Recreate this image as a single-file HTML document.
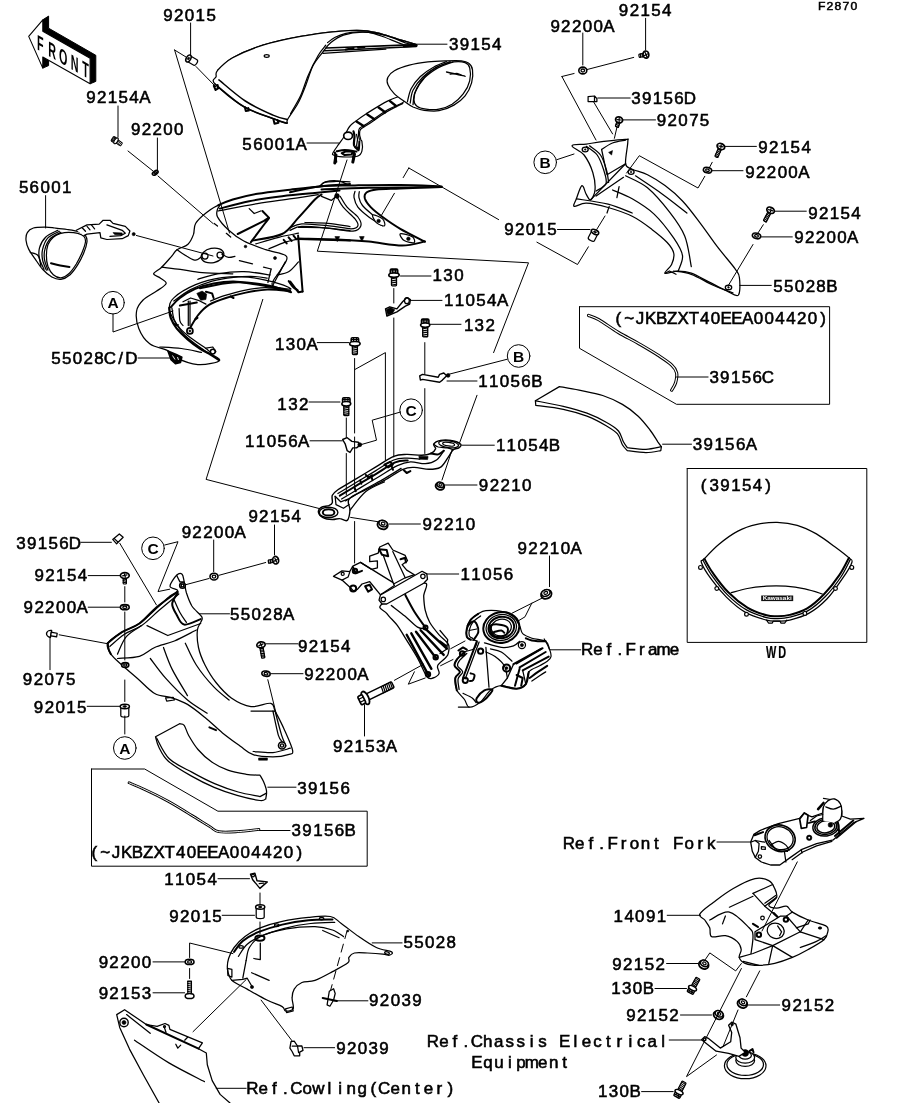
<!DOCTYPE html>
<html lang="en"><head><meta charset="utf-8"><title>F2870 Cowling</title>
<style>
html,body{margin:0;padding:0;background:#fff}
svg{display:block;filter:grayscale(1)}
.k{fill:none;stroke:#000;stroke-width:1;stroke-linejoin:round;stroke-linecap:round}
.g{fill:none;stroke:#000;stroke-width:.7;stroke-linejoin:round;stroke-linecap:round}
.w{fill:#fff;stroke:#000;stroke-width:1;stroke-linejoin:round;stroke-linecap:round}
.b{fill:none;stroke:#000;stroke-width:1.8;stroke-linejoin:round;stroke-linecap:round}
.f{fill:#000;stroke:#000;stroke-width:.6;stroke-linejoin:round}
#parts .k,#parts .w{stroke-width:1.25}
#parts .b{stroke-width:2}
.d{fill:none;stroke:#000;stroke-width:1;stroke-dasharray:9 5}
.l{font-family:"Liberation Sans",sans-serif;fill:#000;stroke:#000;text-anchor:middle}
.c{font-family:"Liberation Sans",sans-serif;font-size:15.5px;font-weight:bold;fill:#000;stroke:none;text-anchor:middle}
</style></head><body>
<svg width="914" height="1103" viewBox="0 0 914 1103">
<rect width="914" height="1103" fill="#fff"/>
<g id="parts">
<path d="M217.6 70.3 C220.1 68.2 225.2 61.9 232.7 57.7 C240.3 53.6 251.6 48.7 262.9 45.2 C274.2 41.6 288.1 38.7 300.7 36.4 C313.2 34.0 327.9 32.3 338.4 31.3 C348.9 30.4 356.4 30.1 363.6 30.6 C370.7 31.0 374.9 32.2 381.2 33.8 C387.5 35.4 395.4 38.3 401.3 40.1 C407.2 41.9 413.9 43.9 416.4 44.7" class="w"/>
<path d="M217.6 70.3 C214.8 73.5 216.5 74.3 216.1 76.6 C215.7 78.9 210.4 79.1 215.1 84.2 C219.8 89.2 234.0 100.9 244.0 106.8 C254.1 112.7 268.4 116.7 275.5 119.4 C282.6 122.1 284.8 123.2 286.8 123.2 C288.8 123.2 285.7 122.8 287.6 119.4 C289.5 116.0 295.1 108.7 298.1 103.0 C301.2 97.4 303.2 91.7 305.7 85.4 C308.2 79.1 310.3 71.0 313.2 65.3 C316.2 59.6 320.4 55.2 323.3 51.5 C326.2 47.7 327.5 45.4 330.9 42.6 C334.2 39.9 338.0 36.9 343.4 35.1 C348.9 33.3 356.4 32.0 363.6 32.1 C370.7 32.2 379.1 33.8 386.2 35.6 C393.3 37.4 401.3 41.6 406.3 43.2 C411.4 44.7 417.2 45.2 416.4 44.7 C415.6 44.2 407.2 41.9 401.3 40.1 C395.4 38.3 387.5 35.4 381.2 33.8 C374.9 32.2 370.7 31.0 363.6 30.6 C356.4 30.1 348.9 30.4 338.4 31.3 C327.9 32.3 313.2 34.0 300.7 36.4 C288.1 38.7 274.2 41.6 262.9 45.2 C251.6 48.7 240.3 53.6 232.7 57.7 C225.2 61.9 220.4 67.2 217.6 70.3 Z" class="w"/>
<path d="M218.9 79.9 C223.3 83.4 236.3 95.2 245.3 101.0 C254.3 106.9 266.0 112.0 273.0 115.1 C280.0 118.2 284.9 118.9 287.3 119.6" class="k" style="stroke-width:1.5"/>
<path d="M215.1 84.2 C219.9 87.9 234.0 100.9 244.0 106.8 C254.1 112.7 268.4 116.7 275.5 119.4 C282.6 122.1 284.9 122.5 286.8 123.2" class="k" style="stroke-width:1.6"/>
<path d="M325.8 45.2 C324.6 46.8 321.2 50.2 318.3 55.2 C315.3 60.3 311.1 68.6 308.2 75.4 C305.3 82.1 303.6 89.1 300.7 95.5 C297.7 101.9 292.3 110.6 290.6 113.6" class="k"/>
<path d="M327.6 42.6 C328.8 41.7 332.2 38.8 335.2 37.3 C338.3 35.7 342.1 34.3 345.9 33.4 C349.8 32.5 354.4 32.1 358.2 31.9 C362.0 31.7 364.8 31.6 368.9 32.4 C373.0 33.1 377.8 34.8 382.7 36.5 C387.5 38.2 394.2 41.2 398.0 42.6 C401.8 44.1 404.4 44.8 405.7 45.2" class="k"/>
<path d="M326.0 48.0 L416.4 44.6" class="b" style="stroke-width:1.6"/>
<path d="M324.5 50.7 L353.6 49.5 L416.4 46.4" class="k" style="stroke-width:1.5"/>
<path d="M323.0 53.3 L352.1 51.3 L385.8 49.2" class="k"/>
<path d="M345.9 49.5 L353.6 48.0" class="b" style="stroke-width:2.2"/>
<path d="M358.2 47.7 L364.3 47.1" class="b" style="stroke-width:2.2"/>
<path d="M404.1 46.1 L416.4 45.5" class="b" style="stroke-width:2.6"/>
<path d="M213.8 85.9 L215.6 90.0 L218.1 88.4 L217.6 84.9" class="b"/>
<path d="M244.8 107.1 L245.8 111.1 L248.8 110.6 L248.3 108.1" class="b"/>
<path d="M273.5 119.4 L274.5 123.7 L278.5 122.7 L277.5 120.2" class="b"/>
<ellipse cx="266.7" cy="56" rx="2.5" ry="1.3" class="k"/>
<path d="M403.7 101.9 C406.5 99.4 405.4 96.1 402.8 96.0 C400.1 95.8 394.1 98.0 388.0 100.9 C381.9 103.9 371.9 110.2 366.3 113.7 C360.8 117.2 357.3 119.9 354.5 122.1 C351.7 124.2 351.0 124.8 349.6 126.5 C348.2 128.2 347.1 130.6 346.2 132.4 C345.2 134.2 344.9 135.4 343.7 137.3 C342.5 139.3 340.5 141.8 338.8 144.2 C337.1 146.7 334.3 150.3 333.4 152.1 C332.5 153.9 331.8 154.3 333.4 155.0 C334.9 155.8 338.7 156.6 342.7 156.8 C346.7 157.0 354.3 157.2 357.5 156.2 C360.7 155.3 361.2 153.6 361.9 151.1 C362.6 148.6 362.3 143.2 361.9 141.3 C361.5 139.3 360.0 140.4 359.4 139.3 C358.9 138.1 358.5 136.2 358.5 134.4 C358.5 132.6 358.0 130.3 359.4 128.5 C360.9 126.7 362.9 126.5 367.3 123.5 C371.8 120.6 380.0 114.4 386.0 110.7 C392.1 107.1 401.0 104.4 403.7 101.9 Z" class="w" style="stroke-width:1.2"/>
<path d="M402.8 103.4 C400.0 104.8 392.3 108.4 386.5 111.9 C380.8 115.4 372.6 121.4 368.3 124.3 C364.0 127.2 362.1 127.6 360.6 129.3 C359.2 130.9 359.6 132.8 359.6 134.4 C359.6 136.0 360.5 138.1 360.6 138.8" class="k"/>
<path d="M390.0 101.1 L396.1 106.0" class="b" style="stroke-width:2.4"/>
<path d="M378.6 107.6 L385.2 112.3" class="b" style="stroke-width:2.4"/>
<path d="M367.3 114.5 L374.4 119.2" class="b" style="stroke-width:2.4"/>
<path d="M356.5 121.4 L363.6 126.1" class="b" style="stroke-width:2.4"/>
<ellipse cx="348.1" cy="135.8" rx="4.4" ry="3.7" class="w" style="stroke-width:1.7"/>
<path d="M353.5 131.4 C353.7 132.2 354.4 134.0 354.5 136.3 C354.6 138.6 353.4 142.9 354.0 145.2 C354.7 147.5 357.7 149.3 358.5 150.1" class="b" style="stroke-width:2.2"/>
<path d="M356.5 134.4 C356.7 135.2 357.4 137.3 357.5 139.3 C357.5 141.3 356.4 144.5 356.7 146.2 C357.0 147.8 359.0 148.6 359.4 149.1" class="k"/>
<path d="M359.4 141.3 L359.0 148.1" class="b"/>
<path d="M336.8 151.3 C338.1 151.1 341.4 150.1 344.7 150.1 C348.0 150.2 354.5 151.3 356.5 151.6" class="b"/>
<path d="M341.7 153.1 L346.2 151.3 L352.6 151.7 L351.6 154.6 L344.7 155.1 Z" class="b"/>
<path d="M336.0 155.0 L334.8 162.9" class="b" style="stroke-width:3"/>
<path d="M354.5 154.1 L352.8 162.1" class="b" style="stroke-width:3"/>
<path d="M405.6 102.3 C402.5 100.1 397.3 96.9 394.4 93.9 C391.5 91.0 389.0 87.4 387.9 84.6 C386.8 81.9 386.8 79.5 387.9 77.2 C389.0 74.9 390.8 72.7 394.4 70.7 C398.0 68.7 403.7 66.6 409.3 65.1 C414.9 63.7 421.7 62.7 427.9 61.9 C434.1 61.2 440.9 61.0 446.5 60.8 C452.1 60.6 457.6 60.4 461.4 60.8 C465.1 61.2 466.9 61.8 468.8 63.3 C470.7 64.7 472.1 66.5 472.5 69.8 C473.0 73.0 472.8 78.4 471.6 82.8 C470.4 87.1 468.0 92.1 465.1 95.8 C462.1 99.5 458.3 102.6 453.9 105.1 C449.6 107.6 444.0 109.8 439.0 110.7 C434.1 111.6 428.5 110.9 424.2 110.3 C419.8 109.7 416.1 108.3 413.0 107.0 C409.9 105.6 408.7 104.5 405.6 102.3 Z" class="w"/>
<path d="M416.7 106.0 C414.7 104.4 413.9 102.5 413.9 99.5 C413.9 96.6 414.7 92.4 416.7 88.4 C418.7 84.3 422.3 79.1 426.0 75.3 C429.7 71.6 434.4 68.3 439.0 66.0 C443.7 63.8 449.6 62.5 453.9 61.9 C458.3 61.4 462.5 61.7 465.1 62.7 C467.7 63.7 469.0 64.9 469.7 67.9 C470.5 70.9 470.8 76.6 469.7 80.9 C468.7 85.3 466.2 90.1 463.2 93.9 C460.3 97.8 456.1 101.6 452.1 104.2 C448.0 106.7 443.4 108.4 439.0 109.2 C434.7 110.0 429.7 109.7 426.0 109.2 C422.3 108.7 418.7 107.6 416.7 106.0 Z" class="k"/>
<path d="M407.4 101.8 C408.0 99.6 409.0 93.0 411.1 88.7 C413.3 84.5 416.7 80.1 420.4 76.5 C424.2 72.9 429.1 69.6 433.5 67.2 C437.8 64.7 444.3 62.5 446.5 61.6" class="k"/>
<path d="M410.2 103.2 C410.7 101.1 410.9 94.6 413.0 90.2 C415.1 85.9 418.9 81.0 422.7 77.2 C426.5 73.4 431.1 70.1 435.7 67.5 C440.3 64.9 447.8 62.6 450.2 61.6" class="k"/>
<path d="M413.0 104.7 C413.4 102.6 413.3 96.5 415.2 92.1 C417.2 87.6 420.8 82.0 424.5 77.9 C428.3 73.9 433.2 70.6 437.9 67.9 C442.7 65.2 450.5 62.8 453.0 61.8" class="k"/>
<path d="M446.5 72.0 C448.0 72.3 452.7 73.3 455.8 74.0 C458.9 74.8 463.5 75.9 465.1 76.3" class="k" style="stroke-width:1.3"/>
<path d="M450.2 74.2 C451.4 74.1 455.8 73.3 457.6 73.5 C459.5 73.7 460.7 75.0 461.4 75.3" class="k"/>
<path d="M219.7 204.9 C217.9 205.4 210.6 209.4 206.6 212.5 C202.6 215.6 197.8 219.8 195.6 223.5 C193.5 227.1 194.7 230.9 193.5 234.4 C192.2 237.9 190.7 241.7 188.0 244.2 C185.3 246.8 179.8 247.7 177.0 249.7 C174.3 251.7 174.1 253.4 171.6 256.3 C169.0 259.2 164.7 264.3 161.7 267.2 C158.7 270.1 153.8 272.0 153.6 273.8 C153.5 275.6 158.6 276.5 160.6 278.2 C162.7 279.8 166.8 281.4 166.1 283.6 C165.4 285.8 160.1 288.6 156.3 291.3 C152.4 294.0 146.4 296.8 143.1 300.0 C139.8 303.3 137.3 306.2 136.6 311.0 C135.8 315.7 136.6 323.0 138.8 328.5 C140.9 334.0 145.0 340.2 149.7 343.8 C154.4 347.5 163.2 348.2 167.2 350.4 C171.2 352.6 168.7 354.6 173.8 356.9 C178.9 359.3 190.2 364.0 197.8 364.6 C205.5 365.1 218.6 362.6 219.7 360.2 C220.8 357.8 210.2 354.6 204.4 350.4 C198.6 346.2 189.8 340.2 184.7 335.1 C179.6 329.9 176.3 324.1 173.8 319.7 C171.2 315.4 169.4 312.4 169.4 308.8 C169.4 305.1 169.4 301.9 173.8 297.9 C178.1 293.8 187.6 288.1 195.6 284.7 C203.7 281.4 213.2 279.0 221.9 277.7 C230.7 276.4 238.7 276.1 248.2 277.1 C257.6 278.1 271.7 281.6 278.8 283.6 C285.9 285.6 291.9 288.9 290.8 289.1 C289.7 289.3 273.9 288.0 272.2 284.7 C270.6 281.4 278.6 274.2 281.0 269.4 C283.4 264.7 289.0 259.6 286.5 256.3 C283.9 253.0 272.8 252.3 265.7 249.7 C258.6 247.2 250.0 244.2 243.8 241.0 C237.6 237.7 232.8 234.0 228.5 230.0 C224.1 226.0 219.4 220.4 217.5 216.9 C215.7 213.4 217.2 211.2 217.5 209.2 C217.9 207.2 221.5 204.3 219.7 204.9 Z" class="w"/>
<path d="M170.7 307.2 C172.3 305.6 175.8 301.0 179.9 298.0 C184.0 294.9 189.6 291.2 195.2 288.8 C200.8 286.4 207.2 284.6 213.6 283.4 C220.0 282.2 226.6 281.3 233.5 281.4 C240.4 281.6 247.8 283.1 255.0 284.2 C262.1 285.3 270.5 286.9 276.4 288.0 C282.3 289.2 287.9 290.6 290.2 291.1" class="b" style="stroke-width:2"/>
<path d="M173.8 301.0 C176.6 299.1 184.3 292.9 190.6 289.6 C197.0 286.2 204.9 283.2 212.1 281.1 C219.2 279.1 226.4 278.1 233.5 277.3 C240.7 276.5 249.3 276.4 255.0 276.5 C260.6 276.7 265.2 277.8 267.2 278.1" class="k"/>
<path d="M290.2 291.1 C286.4 290.8 274.6 289.3 267.2 289.6 C259.8 289.8 252.7 291.2 245.8 292.6 C238.9 294.0 232.0 295.9 225.9 298.0 C219.7 300.0 213.6 302.1 209.0 304.9 C204.4 307.7 201.4 311.1 198.3 314.8 C195.2 318.5 191.9 325.0 190.6 327.1" class="b" style="stroke-width:1.9"/>
<path d="M287.1 290.0 C283.6 289.6 272.8 287.5 265.7 287.6 C258.5 287.6 251.1 289.0 244.2 290.3 C237.3 291.7 229.9 293.9 224.3 295.7 C218.7 297.5 212.8 300.1 210.5 301.0" class="k"/>
<path d="M169.2 307.9 C169.4 309.6 169.4 314.4 170.7 317.9 C172.0 321.3 174.0 325.0 176.8 328.6 C179.7 332.2 183.7 336.0 187.6 339.3 C191.4 342.6 196.0 346.0 199.8 348.5 C203.7 351.1 207.4 352.7 210.5 354.6 C213.7 356.6 217.6 359.1 219.0 360.0" class="b" style="stroke-width:2.2"/>
<path d="M171.9 307.9 C172.3 309.8 172.7 316.0 174.1 319.4 C175.5 322.9 177.5 325.5 180.2 328.6 C183.0 331.7 186.3 334.5 190.6 337.8 C194.9 341.1 203.4 346.7 205.9 348.5" class="k"/>
<path d="M160.0 347.0 C163.6 347.2 174.6 347.6 181.4 348.5 C188.3 349.4 198.0 351.7 201.4 352.3" class="k"/>
<path d="M179.9 305.6 L196.8 302.6" class="b"/>
<path d="M188.3 301.0 L188.3 325.5" class="k"/>
<path d="M190.0 301.0 L190.0 325.5" class="k"/>
<path d="M179.1 308.7 C179.3 310.7 179.3 318.1 179.9 320.9 C180.5 323.8 182.5 324.8 183.0 325.5" class="k"/>
<path d="M183.0 301.8 L190.6 298.0 L198.3 300.3 L205.9 304.1" class="k"/>
<path d="M196.8 293.4 L202.1 291.1 L206.7 294.1 L205.9 299.5 L200.6 300.3 Z" class="f"/>
<path d="M205.9 291.8 L212.1 293.4 L213.6 298.0" class="b"/>
<path d="M230.5 296.4 L233.5 298.0" class="b"/>
<path d="M195.2 319.4 L197.5 317.9" class="b"/>
<circle cx="189.9" cy="330.9" r="3" class="w" style="stroke-width:1.7"/><circle cx="189.9" cy="330.9" r="1" class="f"/>
<path d="M205.9 348.2 L212.8 347.0 L215.9 351.6 L212.1 353.9 Z" class="w"/>
<circle cx="212.8" cy="351.6" r="2.4" class="w" style="stroke-width:1.5"/>
<path d="M174.6 323.2 L176.1 325.5 L178.4 324.8" class="k"/>
<path d="M167.9 351 L171 359.8 L175.4 363.7 L180.6 362.4 L181.9 357.1 L176.3 354.5 Z" class="f" style="stroke-width:1.5"/>
<path d="M172.5 355.5 L175 359.5 M177.5 357 L178.5 360" stroke="#fff" stroke-width="0.9" fill="none"/>
<path d="M288.7 281.1 C289.4 282.1 291.7 285.7 293.3 287.3 C294.8 288.8 297.1 289.8 297.8 290.3" class="b"/>
<path d="M161.7 267.2 C164.8 267.6 173.6 268.5 180.3 269.4 C187.1 270.3 193.5 272.0 202.2 272.7 C211.0 273.4 227.7 273.6 232.8 273.8" class="k"/>
<path d="M177.0 249.7 C178.7 250.8 183.8 254.5 186.9 256.3 C190.0 258.0 193.1 260.2 195.6 260.2 C198.2 260.2 201.1 256.9 202.2 256.3" class="k"/>
<path d="M197.8 279.3 C201.1 278.3 209.9 275.1 217.5 273.8 C225.2 272.5 235.0 271.4 243.8 271.6 C252.5 271.8 265.7 274.3 270.0 274.9" class="k"/>
<path d="M214.2 223.5 L217.5 226.1" class="k"/>
<path d="M226.3 233.3 L230.7 237.0" class="k"/>
<path d="M239.4 260.7 L252.5 263.9" class="k"/>
<path d="M263.5 267.2 L271.1 269.0" class="k"/>
<path d="M271.1 269.0 L267.9 282.5" class="k"/>
<ellipse cx="212.5" cy="255.5" rx="11.5" ry="7.2" class="w" transform="rotate(-12 212.5 255.5)"/>
<circle cx="205" cy="256" r="3" class="k"/><circle cx="220" cy="255" r="3" class="k"/>
<path d="M221.9 254.1 C223.0 254.6 226.3 257.0 228.5 257.4 C230.7 257.7 233.9 256.5 235.0 256.3" class="k"/>
<circle cx="245.5" cy="246.5" r="1.3" class="f"/><circle cx="275" cy="258" r="1.5" class="f"/>
<path d="M218.1 205.3 C220.5 204.3 226.3 201.5 232.8 199.5 C239.4 197.6 247.9 195.4 257.4 193.8 C267.0 192.2 279.9 190.9 290.3 189.7 C300.7 188.5 309.9 187.4 319.8 186.4 C329.8 185.5 345.0 184.4 350.0 184.0" class="b"/>
<path d="M219.7 208.6 C224.6 207.3 238.8 203.2 249.2 201.2 C259.6 199.1 271.1 197.6 282.1 196.3 C293.0 194.9 305.3 193.9 314.9 193.0 C324.5 192.0 335.4 190.9 339.5 190.5" class="b"/>
<path d="M218.1 211.0 C224.6 209.8 245.1 205.7 257.4 203.6 C269.8 201.6 281.8 200.2 291.9 198.7 C302.0 197.2 313.8 195.3 318.2 194.6" class="k"/>
<path d="M237.7 234.0 L264.0 220.9 L268.9 217.6 L262.4 211.0" class="b"/>
<path d="M249.2 208.6 L254.2 213.5 L260.7 211.0" class="k"/>
<path d="M250.9 242.2 L265.6 222.5 L268.9 218.4" class="b"/>
<path d="M252.5 240.6 C257.4 239.5 274.4 237.8 282.1 234.0 C289.7 230.2 293.0 223.3 298.5 217.6 C303.9 211.9 311.1 203.4 314.9 199.5 C318.7 195.7 320.4 195.4 321.5 194.6" class="b"/>
<path d="M298.5 238.9 L350.0 240.6" class="b"/>
<path d="M283.7 239.8 L286.7 243.4" class="b"/>
<path d="M288.6 237.3 L291.6 240.9" class="b"/>
<path d="M293.5 235.6 L296.5 239.3" class="b"/>
<path d="M298.1 235.6 L302.6 291.5" class="b"/>
<path d="M290.3 281.6 L295.2 288.2 L298.5 292.3 L302.6 291.5" class="b"/>
<path d="M285.3 261.9 L272.2 286.5" class="k"/>
<path d="M305.0 222.5 C308.9 222.7 320.5 222.7 328.0 223.3 C335.5 224.0 346.3 226.1 350.0 226.6" class="k"/>
<path d="M298.5 227.4 C302.9 227.5 316.1 227.2 324.7 227.8 C333.3 228.3 345.8 230.2 350.0 230.7" class="k"/>
<path d="M255.8 243.9 C259.6 242.8 271.7 239.1 278.8 237.3 C285.9 235.5 295.2 233.9 298.5 233.2" class="k"/>
<path d="M268.9 248.8 C271.7 247.7 280.4 243.9 285.3 242.2 C290.3 240.6 296.3 239.5 298.5 238.9" class="k"/>
<path d="M277.1 275.0 C279.1 274.5 285.1 273.9 288.6 271.8 C292.2 269.6 296.8 263.5 298.5 261.9" class="k"/>
<path d="M319.8 186.4 C320.6 185.7 322.0 183.1 324.7 182.3 C327.5 181.5 332.0 181.6 336.2 181.5 C340.4 181.4 347.7 181.8 350.0 181.8" class="k"/>
<path d="M321.5 196.3 L331.3 200.4 L336.2 196.3" class="k"/>
<circle cx="337" cy="196" r="2.4" class="f"/>
<path d="M200.0 288.2 C205.5 287.2 221.9 283.0 232.8 282.4 C243.8 281.9 255.9 283.2 265.6 284.9 C275.4 286.5 286.8 291.0 291.1 292.3" class="b"/>
<path d="M290.0 192.3 C294.9 191.4 308.7 187.6 319.5 186.4 C330.4 185.3 341.5 185.7 355.0 185.4 C368.4 185.2 385.8 184.9 400.3 185.1 C414.7 185.2 434.7 186.2 441.6 186.4" class="b"/>
<path d="M321.5 189.4 C329.4 189.1 354.3 188.1 368.8 187.8 C383.2 187.5 396.0 187.5 408.2 187.4 C420.3 187.3 436.1 187.1 441.6 187.0" class="b"/>
<path d="M319.5 186.4 C320.5 185.7 322.2 182.8 325.4 181.9 C328.7 181.0 335.3 180.5 339.2 181.1 C343.2 181.7 347.4 184.7 349.1 185.4" class="k"/>
<path d="M441.6 187.0 C434.7 187.3 411.1 188.0 400.3 188.4 C389.4 188.8 382.2 188.7 376.6 189.4 C371.1 190.0 368.8 190.9 366.8 192.3 C364.8 193.8 364.2 195.8 364.8 198.2 C365.5 200.7 367.8 204.0 370.7 207.1 C373.7 210.2 377.6 213.3 382.6 217.0 C387.5 220.6 393.2 224.7 400.3 228.8 C407.3 232.9 420.8 239.4 424.9 241.6" class="b"/>
<path d="M424.9 241.6 C421.1 242.2 411.6 245.5 402.2 245.5 C392.9 245.5 379.6 242.6 368.8 241.6 C357.9 240.6 349.1 240.1 337.3 239.6 C325.4 239.1 304.4 238.8 297.9 238.6" class="b"/>
<path d="M355.0 191.4 C354.8 192.3 353.5 194.6 354.0 197.3 C354.5 199.9 355.5 203.8 357.9 207.1 C360.4 210.4 364.7 213.8 368.8 217.0 C372.9 220.1 380.3 224.3 382.6 225.8" class="k"/>
<path d="M359.3 191.7 C359.3 192.7 358.4 195.0 358.9 197.3 C359.4 199.6 360.2 202.6 362.5 205.5 C364.8 208.5 371.0 213.4 372.7 215.0" class="k"/>
<path d="M337.3 197.3 C338.2 198.9 340.2 203.5 343.2 207.1 C346.1 210.7 352.5 215.8 355.0 218.9 C357.4 222.0 358.6 224.2 357.9 225.8 C357.3 227.5 355.8 228.8 351.0 228.8 C346.3 228.8 337.6 226.6 329.4 225.8 C321.2 225.0 308.4 223.5 301.8 223.8 C295.3 224.2 292.0 227.1 290.0 227.8" class="k"/>
<path d="M340.2 196.3 C341.4 198.1 344.2 203.7 347.1 207.1 C350.1 210.6 355.6 213.8 357.9 217.0 C360.2 220.1 361.7 223.5 360.9 225.8 C360.1 228.2 358.3 230.7 353.0 231.1 C347.8 231.6 337.9 229.2 329.4 228.4 C320.9 227.6 308.4 226.1 301.8 226.4 C295.3 226.7 292.0 229.7 290.0 230.3" class="k"/>
<path d="M372.7 215.0 C371.7 215.6 374.7 221.1 376.6 222.9 C378.6 224.7 383.5 226.5 384.5 225.8 C385.5 225.2 384.5 220.7 382.6 218.9 C380.6 217.1 373.7 214.3 372.7 215.0 Z" class="w"/>
<path d="M400.3 233.7 C399.0 234.4 401.9 239.1 404.2 240.6 C406.5 242.1 412.8 243.2 414.1 242.6 C415.4 241.9 414.4 238.1 412.1 236.6 C409.8 235.2 401.6 233.0 400.3 233.7 Z" class="w"/>
<circle cx="378.6" cy="221" r="1.8" class="f"/><circle cx="408.4" cy="238.8" r="1.8" class="f"/>
<path d="M334.9 236.6 L339.6 236.6 L337.3 241.6 Z" class="f"/>
<path d="M359.5 236.6 L364.2 236.6 L361.9 241.6 Z" class="f"/>
<path d="M334.9 152.4 L336.3 161.8" class="b"/>
<path d="M354.0 152.4 L353.0 160.8" class="b"/>
<path d="M45.6 227.2 C42.1 227.2 36.4 227.1 33.4 228.0 C30.3 228.9 28.5 230.5 27.3 232.6 C26.0 234.6 25.8 237.4 26.0 240.2 C26.3 243.0 27.3 246.4 28.8 249.4 C30.3 252.5 32.6 255.3 34.9 258.6 C37.2 261.9 39.8 266.3 42.6 269.3 C45.4 272.4 48.7 275.3 51.8 277.0 C54.8 278.6 57.9 279.7 60.9 279.3 C64.0 278.9 67.3 277.1 70.1 274.7 C72.9 272.3 75.5 268.4 77.8 264.7 C80.1 261.0 82.4 256.3 83.9 252.5 C85.5 248.7 86.7 244.6 87.0 241.8 C87.2 239.0 86.7 237.3 85.5 235.6 C84.2 234.0 82.4 232.8 79.3 231.8 C76.3 230.8 71.2 230.1 67.1 229.5 C63.0 228.9 58.4 228.4 54.8 228.0 C51.2 227.6 49.2 227.2 45.6 227.2 Z" class="w"/>
<path d="M60.9 233.3 C58.4 234.2 55.5 235.2 53.3 237.2 C51.1 239.1 49.1 241.8 47.9 244.8 C46.8 247.9 46.4 252.0 46.4 255.5 C46.4 259.1 46.8 263.1 47.9 266.3 C49.1 269.5 51.1 272.8 53.3 274.7 C55.5 276.6 58.3 278.0 60.9 277.8 C63.6 277.5 66.8 275.5 69.4 273.2 C71.9 270.9 74.1 267.5 76.3 264.0 C78.4 260.4 80.9 255.4 82.4 251.7 C83.9 248.0 85.2 244.3 85.5 241.8 C85.7 239.2 85.2 237.8 83.9 236.4 C82.6 235.0 80.3 234.0 77.8 233.3 C75.2 232.6 71.4 232.3 68.6 232.3 C65.8 232.3 63.5 232.5 60.9 233.3 Z" class="k"/>
<path d="M57.9 230.3 C55.8 231.4 48.7 234.2 45.6 237.2 C42.6 240.1 40.5 244.3 39.5 247.9 C38.5 251.5 38.7 255.0 39.5 258.6 C40.3 262.2 43.3 267.5 44.1 269.3" class="k"/>
<path d="M59.4 231.3 C57.5 232.4 50.7 234.9 47.9 237.9 C45.1 240.9 43.5 245.7 42.6 249.4 C41.7 253.1 41.9 256.7 42.6 260.1 C43.2 263.6 45.8 268.4 46.4 270.1" class="k"/>
<path d="M60.9 232.3 C59.2 233.3 52.9 235.8 50.2 238.7 C47.5 241.6 45.8 245.8 44.9 249.4 C43.9 253.0 44.0 256.7 44.6 260.1 C45.1 263.6 47.4 268.4 47.9 270.1" class="k"/>
<path d="M51.0 263.2 C52.5 263.6 57.1 264.9 60.2 265.5 C63.2 266.1 67.8 266.8 69.4 267.0" class="b"/>
<path d="M30.3 252.5 C31.6 253.0 36.2 253.2 38.0 255.5 C39.8 257.8 40.5 264.5 41.0 266.3" class="k"/>
<path d="M76.3 230.3 L87.0 224.9 L99.2 224.1 L103.1 220.3 L110.0 220.3 L113.0 223.4 L125.3 226.4 L129.9 231.0 L128.3 235.6 L122.2 238.7 L106.9 239.5 L100.8 237.9 L100.0 232.6 L87.0 234.1 L83.9 235.6" class="w"/>
<path d="M106.9 224.9 L122.2 230.3 L125.3 233.3 L120.7 235.6 L110.0 236.4" class="k"/>
<path d="M113.0 232.6 L122.2 232.9 L122.2 235.0 L114.6 234.4 Z" class="f"/>
<path d="M82.4 228.0 L85.5 231.3" class="k"/>
<path d="M87.0 226.4 L90.0 229.8" class="k"/>
<path d="M91.6 225.2 L94.6 228.9" class="k"/>
<circle cx="133.7" cy="234.1" r="1.6" class="f"/>
<path d="M572.0 145.8 C572.4 144.0 581.0 144.8 586.3 144.1 C591.5 143.3 597.2 142.2 603.8 141.4 C610.3 140.6 621.6 139.2 625.6 139.3 C629.7 139.3 627.8 137.8 627.8 141.9 C627.8 146.0 624.9 159.2 625.6 163.8 C626.4 168.3 628.6 167.4 632.2 169.2 C635.9 171.1 642.1 172.0 647.5 174.7 C653.0 177.4 659.2 181.3 665.0 185.6 C670.9 190.0 676.7 194.8 682.5 201.0 C688.4 207.2 694.2 215.2 700.0 222.8 C705.9 230.5 711.7 239.3 717.5 246.9 C723.4 254.6 731.4 263.7 735.1 268.8 C738.7 273.9 738.9 273.2 739.4 277.5 C740.0 281.9 740.5 292.9 738.3 295.1 C736.1 297.2 731.2 292.9 726.3 290.7 C721.4 288.5 714.6 284.8 708.8 281.9 C703.0 279.0 696.4 275.0 691.3 273.2 C686.2 271.3 682.5 271.0 678.2 271.0 C673.8 271.0 666.1 274.3 665.0 273.2 C663.9 272.1 670.1 267.7 671.6 264.4 C673.1 261.1 674.5 257.1 673.8 253.5 C673.1 249.8 670.9 246.5 667.2 242.5 C663.6 238.5 657.7 233.8 651.9 229.4 C646.1 225.0 639.5 219.9 632.2 216.3 C624.9 212.6 615.8 209.7 608.1 207.5 C600.5 205.3 591.9 203.3 586.3 203.2 C580.6 203.0 575.9 207.2 574.2 206.4 C572.6 205.7 575.1 202.2 576.4 198.8 C577.7 195.3 580.2 186.4 581.9 185.6 C583.5 184.9 584.8 192.0 586.3 194.4 C587.7 196.8 589.2 200.6 590.6 199.9 C592.1 199.1 594.6 194.6 595.0 190.0 C595.4 185.5 594.6 178.4 592.8 172.5 C591.0 166.7 587.5 159.5 584.1 155.0 C580.6 150.6 571.7 147.6 572.0 145.8 Z" class="w"/>
<path d="M586.3 146.3 C588.1 147.7 594.3 151.0 597.2 155.0 C600.1 159.0 602.3 165.6 603.8 170.3 C605.2 175.1 607.2 180.0 606.0 183.5 C604.7 186.9 597.7 189.8 596.1 191.1" class="k"/>
<path d="M589.5 145.8 C591.4 147.4 597.6 150.9 600.5 155.0 C603.3 159.1 605.3 165.8 606.6 170.3 C608.0 174.9 608.2 180.4 608.6 182.4" class="k"/>
<path d="M601.6 149.5 C603.4 148.4 608.5 144.5 612.5 143.0 C616.5 141.4 623.5 140.6 625.6 140.1" class="k"/>
<path d="M601.6 149.5 L607.0 174.7 L625.6 163.8" class="k"/>
<path d="M625.6 163.8 L590.6 199.9" class="k"/>
<path d="M623.5 177.3 L596.1 196.1" class="k"/>
<path d="M625.6 175.8 C629.3 177.8 640.2 181.8 647.5 187.8 C654.8 193.9 663.2 203.9 669.4 211.9 C675.6 219.9 681.1 226.9 684.7 236.0 C688.4 245.1 690.2 261.5 691.3 266.6" class="k"/>
<path d="M612.5 190.0 C615.8 191.5 625.3 194.8 632.2 198.8 C639.1 202.8 647.2 207.5 654.1 214.1 C661.0 220.7 669.0 231.2 673.8 238.2 C678.5 245.1 681.8 250.2 682.5 255.7 C683.3 261.1 678.9 268.4 678.2 271.0" class="k"/>
<path d="M635.5 175.8 C640.1 178.9 654.3 188.2 662.8 194.4 C671.4 200.6 682.9 209.9 686.9 213.0" class="k"/>
<path d="M616.9 197.7 L619.1 186.7" class="k"/>
<path d="M607.0 213.0 L609.2 206.4" class="k"/>
<path d="M673.8 271.0 C676.7 271.5 684.7 271.9 691.3 274.3 C697.9 276.6 706.2 282.1 713.2 285.2 C720.1 288.3 729.6 291.6 732.9 292.9" class="k"/>
<path d="M576.4 198.8 C581.7 199.7 598.8 201.9 608.1 204.2 C617.4 206.6 628.2 211.5 632.2 213.0" class="k"/>
<path d="M608.6 152.4 L612.5 150.6 L611.6 155.0 Z" class="f"/>
<ellipse cx="585.2" cy="149.5" rx="3" ry="2.3" class="w" style="stroke-width:1.3"/><ellipse cx="631.1" cy="172" rx="3" ry="2.3" class="w" style="stroke-width:1.3"/><ellipse cx="728.5" cy="287.4" rx="3.2" ry="2.2" class="w" style="stroke-width:1.3"/>
<circle cx="585.2" cy="149.5" r="0.8" class="f"/><circle cx="631.1" cy="172" r="0.8" class="f"/><circle cx="728.5" cy="287.4" r="0.8" class="f"/>
<path d="M665.0 273.2 L669.4 271.0 L676.0 274.3" class="k"/>
<g transform="translate(595.0 232.0) rotate(27)"><path d="M-3.4 0 L-3.4 8.0 A3.4 1.6 0 0 0 3.4 8.0 L3.4 0" class="w"/><ellipse cx="0" cy="0" rx="4.0" ry="2.2" class="w" style="stroke-width:1.5"/><ellipse cx="0" cy="0" rx="1.5" ry="0.9" class="f"/></g>
<path d="M588.5 315.4 C590.2 316.1 593.8 316.8 598.8 319.7 C603.8 322.5 611.9 328.6 618.5 332.5 C625.0 336.4 631.6 339.5 638.2 343.3 C644.7 347.1 652.3 351.5 657.8 355.1 C663.4 358.8 668.5 362.0 671.6 365.0 C674.8 367.9 675.9 369.9 676.6 372.9 C677.2 375.8 676.4 379.8 675.6 382.7 C674.8 385.6 672.3 388.9 671.6 390.2" class="k" style="stroke-width:3.2"/>
<path d="M588.5 315.4 C590.2 316.1 593.8 316.8 598.8 319.7 C603.8 322.5 611.9 328.6 618.5 332.5 C625.0 336.4 631.6 339.5 638.2 343.3 C644.7 347.1 652.3 351.5 657.8 355.1 C663.4 358.8 668.5 362.0 671.6 365.0 C674.8 367.9 675.9 369.9 676.6 372.9 C677.2 375.8 676.4 379.8 675.6 382.7 C674.8 385.6 672.3 388.9 671.6 390.2" class="k" style="stroke:#fff;stroke-width:1.2"/>
<path d="M535.4 400.8 L559.4 386.6 C562.7 387.2 571.9 388.7 579.1 390.2 C586.3 391.7 595.5 393.1 602.7 395.5 C609.9 397.9 616.5 400.9 622.4 404.4 C628.3 407.8 633.6 411.9 638.2 416.2 C642.8 420.5 646.7 425.7 650.0 430.0 C653.3 434.2 655.9 439.0 657.8 441.8 C659.8 444.6 660.8 445.9 661.4 446.7 L660.8 450.6 C658.3 451.0 651.6 452.6 646.0 452.6 C640.5 452.6 630.4 451.0 627.3 450.6 C626.5 449.7 624.0 447.5 622.4 444.7 C620.8 442.0 620.1 437.0 617.5 433.9 C614.9 430.8 611.7 429.0 606.6 426.0 C601.6 423.1 594.2 419.0 587.0 416.2 C579.7 413.4 571.9 411.1 563.3 409.3 C554.8 407.5 540.3 406.0 535.8 405.4 L535.4 400.8 Z" class="w"/>
<path d="M535.4 400.8 C540.0 401.7 554.7 404.3 563.3 406.3 C571.9 408.4 579.7 410.5 587.0 413.2 C594.2 415.9 601.4 419.5 606.6 422.5 C611.9 425.4 615.7 427.7 618.5 431.0 C621.3 434.2 621.9 439.0 623.4 441.8 C624.9 444.6 626.7 446.7 627.3 447.7 C630.4 448.0 640.4 449.4 646.0 449.3 C651.7 449.1 658.8 447.1 661.4 446.7" class="k"/>
<path d="M155.5 736.8 L179.6 723.7 C180.4 724.0 182.7 723.3 184.2 725.3 C185.7 727.3 186.5 731.7 188.8 735.7 C191.1 739.7 194.2 745.1 198.0 749.5 C201.8 753.9 206.8 758.7 211.8 762.1 C216.8 765.6 222.1 768.1 227.9 770.1 C233.6 772.2 240.9 773.4 246.2 774.3 C251.6 775.1 257.7 775.0 260.0 775.2 C260.6 776.3 262.4 779.0 263.5 781.6 C264.6 784.2 266.1 788.0 266.5 790.8 C266.9 793.7 265.9 797.5 265.8 798.9 C264.8 799.1 264.8 801.1 260.0 800.5 C255.2 799.9 244.7 797.6 237.1 795.4 C229.4 793.2 221.7 790.6 214.1 787.4 C206.4 784.1 198.8 780.3 191.1 775.9 C183.4 771.5 173.5 765.7 168.1 761.0 C162.8 756.2 161.0 751.2 158.9 747.2 C156.8 743.1 156.1 738.6 155.5 736.8 Z" class="w"/>
<path d="M156.6 738.0 C158.7 741.4 163.3 752.9 169.3 758.7 C175.2 764.4 184.6 768.2 192.3 772.4 C199.9 776.7 207.6 780.7 215.2 783.9 C222.9 787.2 230.7 789.9 238.2 792.0 C245.7 794.1 256.4 795.8 260.0 796.6 L266.5 793.1" class="k"/>
<path d="M129.1 782.8 C131.7 783.9 138.6 786.6 145.1 789.7 C151.7 792.7 160.5 797.0 168.1 801.2 C175.8 805.4 184.2 810.7 191.1 815.0 C198.0 819.2 204.9 823.6 209.5 826.4 C214.1 829.2 214.1 830.8 218.7 831.7 C223.3 832.6 230.4 832.1 237.1 831.7 C243.8 831.3 255.2 829.8 258.9 829.4" class="k" style="stroke-width:2.8"/>
<path d="M129.1 782.8 C131.7 783.9 138.6 786.6 145.1 789.7 C151.7 792.7 160.5 797.0 168.1 801.2 C175.8 805.4 184.2 810.7 191.1 815.0 C198.0 819.2 204.9 823.6 209.5 826.4 C214.1 829.2 214.1 830.8 218.7 831.7 C223.3 832.6 230.4 832.1 237.1 831.7 C243.8 831.3 255.2 829.8 258.9 829.4" class="k" style="stroke:#fff;stroke-width:1"/>
<path d="M176.6 575.3 C178.6 573.3 180.8 573.1 182.1 574.2 C183.3 575.3 183.5 578.8 184.2 581.9 C185.0 585.0 185.2 588.8 186.4 592.8 C187.7 596.8 189.4 601.9 191.9 606.0 C194.5 610.0 200.3 614.2 201.8 616.9 C203.2 619.6 201.4 620.2 200.7 622.4 C199.9 624.6 197.7 625.8 197.4 630.0 C197.0 634.2 197.2 641.7 198.5 647.5 C199.7 653.4 202.1 659.2 205.0 665.0 C208.0 670.9 211.6 677.1 216.0 682.5 C220.4 688.0 225.5 693.8 231.3 697.9 C237.1 701.9 244.4 705.7 251.0 706.6 C257.5 707.5 266.7 702.6 270.7 703.3 C274.7 704.1 272.9 706.8 275.1 711.0 C277.2 715.2 280.9 721.9 283.8 728.5 C286.7 735.1 291.8 746.0 292.6 750.4 C293.3 754.7 291.5 753.7 288.2 754.7 C284.9 755.8 278.7 756.9 272.9 756.9 C267.0 756.9 258.6 756.6 253.2 754.7 C247.7 752.9 245.1 749.6 240.0 746.0 C234.9 742.3 228.4 737.6 222.5 732.9 C216.7 728.1 210.9 722.3 205.0 717.5 C199.2 712.8 193.0 707.7 187.5 704.4 C182.1 701.1 177.7 699.7 172.2 697.9 C166.7 696.0 160.5 696.8 154.7 693.5 C148.9 690.2 142.7 682.9 137.2 678.2 C131.7 673.4 126.3 669.0 121.9 665.0 C117.5 661.0 113.3 657.7 110.9 654.1 C108.6 650.4 105.8 646.8 107.7 643.2 C109.5 639.5 116.6 635.5 121.9 632.2 C127.2 628.9 133.6 627.5 139.4 623.5 C145.2 619.4 151.8 612.7 156.9 608.1 C162.0 603.6 166.6 599.0 170.0 596.1 C173.5 593.2 177.7 592.3 177.7 590.6 C177.7 589.0 170.2 588.8 170.0 586.3 C169.8 583.7 174.6 577.3 176.6 575.3 Z" class="w"/>
<path d="M107.7 643.2 C110.0 641.3 116.6 635.5 121.9 632.2 C127.2 628.9 133.6 627.7 139.4 623.5 C145.2 619.3 150.5 612.3 156.9 607.0 C163.3 601.8 174.2 594.3 177.7 591.7" class="b"/>
<path d="M109.8 646.4 C112.2 644.4 118.8 637.9 124.1 634.4 C129.4 630.9 135.7 629.7 141.6 625.6 C147.4 621.6 152.9 615.6 159.1 610.3 C165.3 605.0 175.5 596.7 178.8 593.9" class="k"/>
<path d="M177.7 592.8 C176.8 594.6 172.4 600.1 172.2 603.8 C172.0 607.4 174.6 611.2 176.6 614.7 C178.6 618.2 180.2 623.8 184.2 624.6 C188.3 625.3 197.9 620.0 200.7 619.1" class="b"/>
<path d="M174.4 600.5 C175.3 602.5 177.9 608.9 179.9 612.5 C181.9 616.2 185.3 620.7 186.4 622.4" class="k"/>
<path d="M147.0 625.6 L167.8 635.5 L200.7 623.5" class="k"/>
<path d="M107.7 643.2 C107.8 644.2 108.2 647.9 108.8 649.7 C109.3 651.5 110.6 653.4 110.9 654.1" class="b"/>
<path d="M117.5 654.1 C119.0 651.2 122.2 641.3 126.3 636.6 C130.3 631.8 139.0 627.5 141.6 625.6" class="k"/>
<path d="M117.5 658.5 C121.2 658.1 133.2 658.1 139.4 656.3 C145.6 654.5 148.9 650.1 154.7 647.5 C160.5 645.0 167.5 643.9 174.4 641.0 C181.3 638.0 192.6 631.8 196.3 630.0" class="k"/>
<path d="M150.3 658.5 C152.9 661.8 159.4 671.2 165.6 678.2 C171.8 685.1 180.6 694.2 187.5 700.0 C194.5 705.9 203.9 711.0 207.2 713.2" class="k"/>
<path d="M163.5 647.5 C164.9 651.2 168.2 661.4 172.2 669.4 C176.2 677.4 185.0 691.3 187.5 695.7" class="k"/>
<path d="M185.3 643.2 C187.2 646.8 191.5 657.7 196.3 665.0 C201.0 672.3 208.3 681.1 213.8 686.9 C219.3 692.7 226.5 697.9 229.1 700.0" class="k"/>
<path d="M251.0 711.0 L275.1 711.0" class="k"/>
<path d="M275.1 711.0 C276.1 715.0 279.8 729.2 281.6 735.1 C283.4 740.9 285.3 744.2 286.0 746.0" class="k"/>
<path d="M272.9 711.0 C273.8 715.0 276.8 729.9 278.3 735.1 C279.9 740.2 281.4 740.5 282.1 741.6" class="k"/>
<path d="M253.2 751.5 C256.5 751.6 266.7 753.1 272.9 752.6 C279.1 752.0 287.5 748.9 290.4 748.2" class="k"/>
<path d="M258.6 758.0 L267.4 758.0 L267.4 760.2 L258.6 760.2 Z" class="f"/>
<path d="M165.6 697.9 L173.3 697.4 L174.4 700.0 L166.7 701.1 Z" class="k"/>
<path d="M209.4 727.4 L216.0 730.2" class="b"/>
<ellipse cx="282.0" cy="745.5" rx="3.5" ry="3.5" class="w" style="stroke-width:1.6"/>
<ellipse cx="282.0" cy="745.5" rx="1.6" ry="1.6" class="k" style="stroke-width:1.3"/>
<ellipse cx="125.2" cy="665.0" rx="3.6" ry="2.4" class="w" style="stroke-width:1.6"/>
<ellipse cx="125.2" cy="665.0" rx="1.6" ry="1.1" class="k" style="stroke-width:1.3"/>
<ellipse cx="182.5" cy="585.5" rx="2.8" ry="2.8" class="w" style="stroke-width:1.6"/>
<ellipse cx="182.5" cy="585.5" rx="1.3" ry="1.3" class="k" style="stroke-width:1.3"/>
<path d="M176.6 575.3 L179.9 581.9 L184.2 581.9" class="k"/>
<path d="M318.4 512.1 C318.1 510.4 319.5 508.5 321.2 507.4 C322.9 506.3 326.7 506.3 328.6 505.6 C330.5 504.8 331.7 504.5 332.3 502.8 C332.9 501.1 331.4 497.5 332.3 495.3 C333.3 493.2 333.9 492.5 337.9 489.7 C341.9 487.0 350.3 482.3 356.5 478.6 C362.7 474.9 368.9 471.1 375.1 467.4 C381.3 463.7 388.4 458.4 393.7 456.3 C399.0 454.1 402.1 454.6 406.7 454.4 C411.4 454.2 417.6 455.5 421.6 455.3 C425.6 455.2 428.6 454.6 430.9 453.5 C433.2 452.4 435.1 450.4 435.6 448.8 C436.0 447.3 432.9 445.6 433.7 444.2 C434.5 442.8 437.3 441.1 440.2 440.5 C443.2 439.8 448.0 439.8 451.4 440.5 C454.8 441.1 459.4 442.9 460.7 444.2 C461.9 445.4 460.0 447.0 458.8 447.9 C457.6 448.8 455.1 448.0 453.2 449.8 C451.4 451.5 449.8 455.2 447.6 458.1 C445.5 461.1 443.3 465.6 440.2 467.4 C437.1 469.3 433.4 469.3 429.0 469.3 C424.7 469.3 418.5 467.4 414.2 467.4 C409.8 467.4 408.0 467.1 403.0 469.3 C398.0 471.5 390.6 477.0 384.4 480.4 C378.2 483.9 371.7 486.6 365.8 489.7 C359.9 492.8 351.7 495.6 349.1 499.0 C346.4 502.5 350.3 506.6 350.0 510.2 C349.7 513.8 348.9 519.0 347.2 520.4 C345.5 521.8 342.2 518.7 339.8 518.6 C337.3 518.4 335.1 519.7 332.3 519.5 C329.5 519.4 325.3 518.9 323.0 517.6 C320.7 516.4 318.7 513.8 318.4 512.1 Z" class="w" style="stroke-width:1.4"/>
<path d="M337.9 493.5 C341.0 491.6 350.3 486.0 356.5 482.3 C362.7 478.6 368.9 474.9 375.1 471.1 C381.3 467.4 388.4 462.2 393.7 460.0 C399.0 457.8 402.4 458.3 406.7 458.1 C411.1 458.0 417.6 458.9 419.7 459.1" class="k"/>
<path d="M341.6 499.0 C344.7 497.2 354.0 491.6 360.2 487.9 C366.4 484.2 372.6 480.4 378.8 476.7 C385.0 473.0 392.2 468.0 397.4 465.6 C402.7 463.1 405.8 462.2 410.4 461.8 C415.1 461.5 421.0 464.0 425.3 463.7 C429.7 463.4 433.4 462.2 436.5 460.0 C439.6 457.8 442.7 452.2 443.9 450.7" class="k"/>
<path d="M345.3 500.9 C348.8 498.9 359.3 492.5 365.8 488.8 C372.3 485.1 378.5 482.0 384.4 478.6 C390.3 475.2 398.4 470.1 401.1 468.4" class="k"/>
<path d="M339.8 495.7 C342.8 493.9 351.9 488.4 358.0 484.7 C364.1 481.0 370.4 477.3 376.6 473.6 C382.8 469.8 390.0 464.6 395.2 462.4 C400.4 460.2 405.6 460.7 407.7 460.4" class="b"/>
<path d="M350.0 510.2 C352.6 507.1 360.1 496.3 365.8 491.6 C371.5 486.9 381.3 483.5 384.4 481.9" class="k"/>
<path d="M433.7 444.2 C434.5 444.6 436.0 446.3 438.3 447.0 C440.7 447.6 445.2 447.4 447.6 447.9 C450.1 448.4 452.3 449.4 453.2 449.8" class="k"/>
<path d="M430.9 453.5 C432.1 453.6 436.2 454.9 438.3 454.4 C440.5 453.9 443.0 451.3 443.9 450.7" class="b"/>
<path d="M384.4 464.6 L388.1 467.4 L392.8 464.6 L390.0 461.8 Z" class="b"/>
<path d="M365.8 474.9 L368.6 477.7 L372.3 475.2" class="b"/>
<path d="M335.1 496.3 L340.7 501.8 L348.1 499.0" class="k"/>
<path d="M335.1 496.3 L336.0 504.6 L343.5 508.3 L349.1 504.6" class="k"/>
<ellipse cx="328.6" cy="512.4" rx="9.3" ry="5.2" class="w" style="stroke-width:1.4"/>
<ellipse cx="328.6" cy="512.4" rx="5.8" ry="3.2" class="b"/>
<ellipse cx="448.6" cy="444.2" rx="10" ry="3.4" class="k" transform="rotate(8 448.6 444.2)"/>
<ellipse cx="448.6" cy="444.2" rx="6" ry="1.8" class="k" transform="rotate(8 448.6 444.2)"/>
<path d="M418.8 456.3 L428.1 456.6 L427.6 459.6 L419.4 459.2 Z" class="f"/>
<path d="M403.9 470.2 L406.7 473.0 L410.4 471.1" class="b"/>
<path d="M360.2 480.4 L361.3 483.8" class="b"/>
<path d="M371.4 476.7 L372.5 480.1" class="b"/>
<path d="M391.8 466.5 L393.0 469.8" class="b"/>
<path d="M354.6 487.9 L355.8 491.2" class="b"/>
<path d="M342.6 439.5 L347.2 437.7 L351.9 441.4 L358.4 442.3 L360.2 445.1 L356.5 447.9 L352.8 447.9 L350.0 452.5 L347.2 450.7 L345.3 444.2 Z" class="w" style="stroke-width:1.4"/>
<circle cx="359.8" cy="444.7" r="2" class="f"/>
<path d="M419.7 375.8 L422.5 374.4 L438.2 377.2 L439.6 374.4 L443.8 373.0 L446.7 375.8 L442.4 380.1 L439.6 382.2 L422.5 379.4 L420.4 380.1 Z" class="w" style="stroke-width:1.4"/>
<circle cx="448.1" cy="375.4" r="1.9" class="f"/>
<path d="M385.5 308.9 L389.8 306.8 L396.9 308.9 L402.6 301.8 L406.9 297.6 L410.4 299.7 L409.7 304.0 L405.4 306.1 L396.9 311.8 L386.9 316.1 Z" class="w" style="stroke-width:1.4"/>
<ellipse cx="406.9" cy="300.7" rx="2.4" ry="3" class="k"/>
<path d="M386.2 309.7 L390.5 307.5 L394.8 309.7 L392.6 313.2 L387.7 314.9 Z" class="f"/>
<path d="M382.0 604.0 C375.9 609.0 384.1 609.7 386.7 613.3 C389.2 616.9 394.4 621.5 397.5 625.6 C400.5 629.7 401.8 632.5 405.2 637.9 C408.5 643.3 413.9 651.5 417.5 658.0 C421.1 664.4 424.2 673.1 426.8 676.5 C429.3 679.8 430.9 678.5 432.9 678.0 C435.0 677.5 438.3 675.4 439.1 673.4 C439.9 671.3 436.5 668.2 437.6 665.7 C438.6 663.1 443.5 660.0 445.3 658.0 C447.1 655.9 447.8 655.7 448.3 653.3 C448.9 651.0 449.9 647.2 448.3 644.1 C446.8 641.0 442.2 638.4 439.1 634.8 C436.0 631.2 432.2 626.6 429.8 622.5 C427.5 618.4 426.2 614.5 425.2 610.2 C424.2 605.8 423.9 600.8 423.7 596.3 C423.4 591.8 430.6 581.9 423.7 583.2 C416.7 584.5 388.2 599.0 382.0 604.0 Z" class="w" style="stroke-width:1.3"/>
<path d="M391.3 605.5 C393.6 607.3 400.8 612.7 405.2 616.3 C409.5 619.9 414.2 625.1 417.5 627.1 C420.8 629.2 423.9 628.4 425.2 628.7" class="k"/>
<path d="M405.2 594.8 C406.7 597.6 411.1 606.3 414.4 611.7 C417.8 617.1 423.4 624.6 425.2 627.1" class="b"/>
<path d="M406.7 634.8 L428.3 674.9" class="b" style="stroke-width:2.4"/>
<path d="M411.3 633.3 L431.4 668.8" class="b" style="stroke-width:2.4"/>
<path d="M416.0 631.8 L436.0 658.0" class="b" style="stroke-width:2.4"/>
<path d="M420.6 630.2 L443.7 654.9" class="b" style="stroke-width:2.4"/>
<path d="M425.2 628.7 L446.8 648.7" class="b" style="stroke-width:2.4"/>
<path d="M333.5 576.3 L342.0 570.9 L349.7 571.6 L352.8 566.2 L360.5 562.4 L371.3 569.3 L377.4 567.8 L377.4 560.8 L369.7 561.6 L369.7 556.2 L378.2 553.1 L379.7 547.0 L388.2 543.1 L392.8 550.0 L405.2 555.4 L407.5 560.8 L402.1 564.7 L406.7 570.1 L414.4 574.7 L405.2 577.8 L393.6 584.0 L394.4 585.5 L380.5 594.8 L372.8 585.5 L369.7 581.6 L362.0 584.0 L357.4 589.4 L353.5 590.9 L349.7 587.0 L342.0 580.1 Z" class="w" style="stroke-width:1.3"/>
<path d="M360.5 562.4 L392.8 582.4" class="k"/>
<path d="M383.6 556.2 L393.6 584.0" class="k"/>
<path d="M392.8 551.6 L405.2 577.8" class="k"/>
<path d="M349.7 572.4 L348.1 577.0 L342.0 580.1" class="k"/>
<path d="M352.8 567.0 L355.8 573.2 L362.0 570.9" class="b"/>
<path d="M379.0 549.3 L386.7 550.0 L388.2 556.2 L382.0 554.7 Z" class="b"/>
<path d="M400.5 559.3 L405.2 557.8 L405.9 562.4" class="b"/>
<path d="M365.1 586.3 L369.7 584.7 L372.0 589.4 L368.2 591.7 Z" class="b"/>
<circle cx="353.2" cy="588.6" r="3" class="b"/>
<circle cx="342.7" cy="573.9" r="1.5" class="k"/>
<circle cx="355" cy="571" r="2.2" class="b"/>
<path d="M380.5 594.8 L383.6 593.2 L422.1 571.3 L426.8 573.9 L427.5 579.3 L423.7 583.2 L386.7 604.0 L382.0 604.0 L379.0 600.2 Z" class="w" style="stroke-width:1.3"/>
<circle cx="383.3" cy="599.4" r="2.2" class="k"/><circle cx="422.9" cy="576.3" r="2.2" class="k"/>
<circle cx="425.5" cy="627.4" r="2" class="b"/><circle cx="435.7" cy="657.2" r="2.2" class="b"/><circle cx="428" cy="674.2" r="2.2" class="b"/>
<g transform="translate(364.9 698.2) rotate(-116)"><rect x="-3.3" y="2" width="6.6" height="29" rx="1" class="w" style="stroke-width:1.5"/><path d="M-3.3 19.0 L3.3 19.8" class="k" style="stroke-width:1.2"/><path d="M-3.3 21.0 L3.3 21.8" class="k" style="stroke-width:1.2"/><path d="M-3.3 23.0 L3.3 23.8" class="k" style="stroke-width:1.2"/><path d="M-3.3 25.0 L3.3 25.8" class="k" style="stroke-width:1.2"/><path d="M-3.3 27.0 L3.3 27.8" class="k" style="stroke-width:1.2"/><path d="M-3.3 29.0 L3.3 29.8" class="k" style="stroke-width:1.2"/><ellipse cx="0" cy="0.5" rx="7" ry="3.2" class="w" style="stroke-width:1.8"/><rect x="-4.6" y="-6" width="9.2" height="5" rx="1.2" class="w" style="stroke-width:1.7"/><path d="M-1.6 -6 L-1.6 -1.4 M1.8 -6 L1.8 -1.4" class="k"/></g>
<path d="M485.9 610.6 C482.1 611.0 480.8 612.2 478.3 613.7 C475.7 615.2 472.5 617.3 470.6 619.8 C468.7 622.4 467.4 626.2 466.8 629.0 C466.2 631.8 466.2 634.9 466.8 636.7 C467.4 638.5 469.0 639.0 470.6 639.7 C472.3 640.5 476.2 639.7 476.8 641.3 C477.3 642.8 475.7 647.1 473.7 648.9 C471.7 650.7 467.3 650.2 464.5 652.0 C461.7 653.8 458.5 657.3 456.8 659.6 C455.2 661.9 454.0 663.7 454.6 665.8 C455.1 667.8 459.8 669.9 459.9 671.9 C460.0 673.9 455.8 675.0 455.3 678.0 C454.8 681.1 455.3 686.7 456.8 690.3 C458.4 693.9 462.5 696.7 464.5 699.5 C466.5 702.3 466.5 706.6 469.1 707.1 C471.7 707.6 476.2 705.3 479.8 702.5 C483.4 699.7 487.0 693.1 490.5 690.3 C494.1 687.5 496.9 685.9 501.3 685.7 C505.6 685.4 512.5 689.0 516.6 688.7 C520.7 688.5 523.7 687.0 525.8 684.2 C527.8 681.3 526.5 675.0 528.8 671.9 C531.1 668.8 536.5 667.6 539.6 665.8 C542.6 664.0 545.3 662.7 547.2 661.2 C549.1 659.6 550.7 658.6 551.0 656.6 C551.4 654.5 550.4 651.5 549.5 648.9 C548.6 646.4 548.6 643.1 545.7 641.3 C542.7 639.5 535.7 639.5 531.9 638.2 C528.1 636.9 524.8 635.6 522.7 633.6 C520.7 631.6 521.2 628.8 519.6 625.9 C518.1 623.1 516.6 619.2 513.5 616.8 C510.5 614.3 505.9 612.4 501.3 611.4 C496.7 610.4 489.8 610.2 485.9 610.6 Z" class="w" style="stroke-width:1.2"/>
<ellipse cx="501.3" cy="627.5" rx="18.1" ry="15.3" class="b" transform="rotate(-12 501.3 627.5)" fill="#fff"/>
<ellipse cx="501.3" cy="627.5" rx="15.3" ry="12.9" class="k" transform="rotate(-12 501.3 627.5)" fill="#fff"/>
<ellipse cx="501.3" cy="627.5" rx="12.9" ry="10.7" class="b" transform="rotate(-12 501.3 627.5)" fill="#fff"/>
<ellipse cx="501.3" cy="627.5" rx="10.1" ry="8.3" class="k" transform="rotate(-12 501.3 627.5)" fill="#fff"/>
<path d="M490.5 625.9 C491.7 624.5 495.4 624.2 498.2 624.4 C501.0 624.7 506.1 625.7 507.4 627.5 C508.7 629.3 507.6 633.6 505.9 635.1 C504.1 636.7 499.1 637.1 496.7 636.7 C494.2 636.3 492.3 634.6 491.3 632.8 C490.3 631.1 489.4 627.4 490.5 625.9 Z" class="b"/>
<path d="M484.4 642.8 C487.2 643.6 496.4 646.9 501.3 647.4 C506.1 647.9 510.5 646.9 513.5 645.9 C516.6 644.8 518.6 642.0 519.6 641.3" class="k"/>
<path d="M485.9 647.4 L489.0 687.2" class="k"/>
<path d="M458.4 707.1 L469.1 707.1" class="k"/>
<path d="M544.2 639.0 C544.7 639.9 546.3 642.5 547.2 644.3 C548.1 646.1 549.1 648.8 549.5 649.7" class="k"/>
<path d="M513.5 664.2 L541.1 648.9" class="b"/>
<path d="M519.6 667.3 L545.7 652.0" class="b"/>
<path d="M522.7 670.4 L548.7 656.6" class="b"/>
<path d="M516.6 663.5 L542.6 648.2" class="b"/>
<path d="M513.5 664.2 L507.4 678.0 L501.3 685.7" class="k"/>
<path d="M519.6 668.8 L515.0 685.7" class="b"/>
<path d="M522.7 670.4 L525.8 684.2" class="k"/>
<path d="M516.6 675.0 L522.7 678.0 L521.2 685.7" class="b"/>
<circle cx="521.9" cy="645.1" r="3.6" class="w"/><circle cx="521.9" cy="645.1" r="1.6" class="f"/>
<circle cx="506.6" cy="668.1" r="3.6" class="b"/><circle cx="506.6" cy="668.1" r="1.4" class="f"/>
<path d="M476.8 697.9 C477.9 695.9 481.9 691.7 484.4 690.3 C487.0 688.9 491.1 689.0 492.1 689.5 C493.1 690.0 492.1 691.4 490.5 693.3 C489.0 695.3 485.1 699.5 482.9 701.0 C480.7 702.5 478.5 703.0 477.5 702.5 C476.5 702.0 475.6 700.0 476.8 697.9 Z" class="b"/>
<path d="M467.6 625.9 C468.5 625.2 471.4 621.6 472.9 621.4 C474.5 621.1 475.9 622.6 476.8 624.4 C477.7 626.2 478.8 629.5 478.3 632.1 C477.8 634.6 474.5 638.5 473.7 639.7" class="b"/>
<path d="M469.1 630.5 L476.8 629.0" class="k"/>
<path d="M476.8 641.3 L463.0 678.0" class="b"/>
<path d="M479.1 642.0 L465.3 678.8" class="k"/>
<path d="M470.6 673.4 C471.3 673.7 474.1 673.8 474.5 675.0 C474.8 676.1 473.7 679.3 472.9 680.3 C472.2 681.3 470.4 681.0 469.9 681.1" class="b"/>
<circle cx="462.2" cy="653.5" r="2.3" class="b"/><circle cx="480.6" cy="651.2" r="2.6" class="b"/><circle cx="465.3" cy="680.3" r="2.6" class="b"/>
<path d="M440.0 630.5 L447.7 639.7 L446.9 648.9 L440.0 653.5" class="k"/>
<path d="M440.0 641.3 L446.1 645.9" class="b"/>
<path d="M478.3 613.7 C477.0 614.7 472.5 617.3 470.6 619.8 C468.7 622.4 467.4 626.2 466.8 629.0 C466.2 631.8 466.2 634.9 466.8 636.7 C467.4 638.5 470.0 639.2 470.6 639.7" class="b"/>
<path d="M480.6 616.0 C479.3 617.0 474.8 619.8 472.9 622.1 C471.1 624.4 470.0 627.5 469.4 629.8 C468.8 632.1 468.8 634.4 469.4 635.9 C470.0 637.4 472.3 638.1 472.9 638.5" class="k"/>
<path d="M464.5 652.0 C463.2 653.3 458.5 657.3 456.8 659.6 C455.2 661.9 454.0 663.7 454.6 665.8 C455.1 667.8 459.8 669.9 459.9 671.9 C460.0 673.9 455.8 675.0 455.3 678.0 C454.8 681.1 456.6 688.2 456.8 690.3" class="b"/>
<path d="M466.8 653.5 C465.6 654.7 461.1 658.4 459.6 660.4 C458.1 662.5 457.1 663.9 457.6 665.8 C458.1 667.7 462.6 669.7 462.7 671.9 C462.7 674.1 458.7 675.9 458.1 678.8 C457.5 681.7 459.0 687.7 459.1 689.5" class="k"/>
<path d="M501.3 685.7 C503.8 686.2 512.5 689.0 516.6 688.7 C520.7 688.5 523.7 687.0 525.8 684.2 C527.8 681.3 528.3 673.9 528.8 671.9" class="b"/>
<path d="M525.8 638.2 C526.8 638.6 529.6 640.0 531.9 640.5 C534.2 641.0 537.3 641.1 539.6 641.3 C541.9 641.4 544.7 641.3 545.7 641.3" class="b"/>
<path d="M485.9 652.0 C487.5 652.8 492.1 654.3 495.1 656.6 C498.2 658.9 502.3 662.2 504.3 665.8 C506.4 669.3 506.9 676.0 507.4 678.0" class="k"/>
<path d="M490.5 648.9 C492.3 649.4 497.7 649.9 501.3 652.0 C504.8 654.0 510.2 659.6 512.0 661.2" class="k"/>
<path d="M529.6 678.0 C531.0 677.0 535.1 673.9 538.0 671.9 C541.0 669.9 545.7 666.8 547.2 665.8" class="b"/>
<path d="M531.9 681.1 C533.2 680.2 537.3 677.3 539.6 675.7 C541.9 674.2 544.7 672.5 545.7 671.9" class="k"/>
<path d="M463.0 693.3 C464.5 694.1 470.0 696.4 472.2 697.9 C474.3 699.5 475.4 701.8 476.0 702.5" class="k"/>
<path d="M493.6 632.1 C494.9 631.8 499.5 630.4 501.3 630.5 C503.1 630.7 503.8 632.5 504.3 632.8" class="b"/>
<path d="M458.4 650.5 L463.0 647.4 L466.8 649.7" class="b"/>
<g transform="rotate(-20 546.0 593.6)"><ellipse cx="546.0" cy="594.4" rx="5.4" ry="4.3" class="w" style="stroke-width:1.9"/>
<ellipse cx="546.0" cy="592.9" rx="4.4" ry="3.2" class="w" style="stroke-width:1.6"/>
<ellipse cx="546.0" cy="592.9" rx="1.9" ry="1.4" class="k" style="stroke-width:1.2"/></g>
<path d="M227.5 969.4 C227.0 965.8 227.5 962.1 228.6 958.5 C229.7 954.8 231.3 951.2 234.1 947.5 C236.8 943.9 240.6 939.9 245.0 936.6 C249.4 933.3 254.1 930.4 260.3 927.8 C266.5 925.3 274.2 923.0 282.2 921.3 C290.2 919.5 300.4 918.1 308.5 917.3 C316.5 916.5 324.9 915.4 330.4 916.5 C335.8 917.5 336.5 920.1 341.3 923.5 C346.0 926.8 353.0 932.6 358.8 936.6 C364.6 940.6 370.8 945.0 376.3 947.5 C381.8 950.1 389.4 950.6 391.6 951.9 C393.8 953.2 390.9 954.8 389.4 955.2 C388.0 955.6 386.5 954.5 382.9 954.1 C379.2 953.7 372.3 953.2 367.5 953.0 C362.8 952.8 357.5 952.3 354.4 953.0 C351.3 953.7 350.0 955.7 348.9 957.4 C347.9 959.0 350.6 960.5 347.9 962.8 C345.1 965.2 338.0 968.7 332.5 971.6 C327.1 974.5 320.1 978.5 315.0 980.4 C309.9 982.2 305.4 981.1 301.9 982.5 C298.4 984.0 295.9 986.5 294.2 989.1 C292.6 991.7 292.2 994.6 292.1 997.9 C291.9 1001.1 294.2 1006.6 293.2 1008.8 C292.1 1011.0 287.3 1011.3 285.5 1011.0 C283.7 1010.6 285.3 1008.4 282.2 1006.6 C279.1 1004.8 272.7 1003.0 266.9 1000.0 C261.1 997.1 253.0 992.4 247.2 989.1 C241.4 985.8 235.2 983.6 231.9 980.4 C228.6 977.1 228.1 973.1 227.5 969.4 Z" class="w"/>
<path d="M234.1 951.9 C235.5 950.1 238.8 944.2 242.8 941.0 C246.8 937.7 251.6 934.9 258.1 932.2 C264.7 929.5 273.8 926.6 282.2 924.6 C290.6 922.5 300.1 921.0 308.5 920.2 C316.9 919.3 328.5 919.6 332.5 919.5" class="b"/>
<path d="M238.4 956.3 C239.9 954.3 243.2 947.7 247.2 944.2 C251.2 940.8 256.3 938.2 262.5 935.5 C268.7 932.8 276.4 930.3 284.4 928.3 C292.4 926.3 302.3 924.4 310.7 923.5 C319.0 922.5 330.7 922.5 334.7 922.4" class="k"/>
<path d="M246.1 960.7 C246.7 958.5 247.0 951.5 249.4 947.5 C251.8 943.5 254.1 939.7 260.3 936.6 C266.5 933.5 277.5 930.6 286.6 928.9 C295.7 927.3 307.4 926.6 315.0 926.7 C322.7 926.9 327.8 928.4 332.5 930.0 C337.3 931.7 341.7 935.5 343.5 936.6" class="k"/>
<path d="M246.1 960.7 L242.8 978.2" class="k"/>
<path d="M231.9 980.4 L242.8 979.3 L247.2 978.2 L251.6 985.8" class="k"/>
<path d="M260.3 943.2 L260.3 959.6 L253.8 958.5" class="k"/>
<path d="M251.6 972.7 L269.1 980.4" class="k"/>
<path d="M322.7 930.5 L339.1 937.7" class="k"/>
<path d="M227.5 968.3 L231.9 969.4 L231.9 977.1 L227.9 975.5 Z" class="k"/>
<path d="M285.5 1008.8 L292.1 1007.0 L293.2 1011.0 L286.6 1012.7 Z" class="k"/>
<ellipse cx="259.9" cy="938.1" rx="4.6" ry="2.6" class="b"/>
<ellipse cx="387" cy="953" rx="2.4" ry="1.2" class="k" transform="rotate(15 387 953)"/>
<circle cx="252" cy="987" r="1.6" class="f"/><circle cx="347.8" cy="931" r="1" class="f"/>
<ellipse cx="241.1" cy="946.9" rx="2.2" ry="1.3" class="k"/>
<ellipse cx="276.7" cy="925.2" rx="2.2" ry="1.3" class="k"/>
<ellipse cx="321.6" cy="918.6" rx="2.2" ry="1.3" class="k"/>
<path d="M250.5 874.2 L254.9 873.1 L257.0 880.8 L267.3 881.9 L259.9 888.4 L252.7 879.7 Z" class="w" style="stroke-width:1.4"/>
<circle cx="253" cy="875.5" r="1.4" class="k"/>
<path d="M259.2 883.6 L263.6 883.2" class="k"/>
<g transform="translate(260.2 907.0) rotate(0)"><path d="M-4.0 0 L-4.0 10.0 A4.0 1.6 0 0 0 4.0 10.0 L4.0 0" class="w"/><ellipse cx="0" cy="0" rx="4.6" ry="2.2" class="w" style="stroke-width:1.5"/><ellipse cx="0" cy="0" rx="1.8" ry="0.9" class="f"/></g>
<path d="M329.3 991.3 L333.6 988.7 L335.2 993.5 L333.6 1000.0 L329.9 1006.2 L327.1 1004.9 L328.2 997.9 Z" class="w"/>
<path d="M322.7 997.9 L336.9 1001.1" class="b"/>
<path d="M291.0 1041.6 L294.2 1041.2 L297.5 1046.0 L301.9 1046.0 L303.0 1050.4 L299.7 1052.1 L299.7 1055.8 L294.2 1055.8 L292.1 1051.5 L289.9 1048.2 Z" class="w" style="stroke-width:1.3"/>
<path d="M292.1 1046.0 L297.5 1046.0 L298.6 1052.6" class="k"/>
<path d="M159.1 1103.0 L143.3 1074.7 L129.5 1049.1 L119.7 1027.4 L116.7 1014.6 L124.6 1009.7 L146.3 1024.5 L157.1 1026.4 L165.0 1023.5 L168.9 1025.4 L169.9 1029.4 L202.4 1042.8 L198.5 1048.7 L206.3 1053.0 L207.3 1064.8 L212.2 1080.6 L220.1 1094.4 L230.0 1103.0" class="w"/>
<path d="M126.6 1014.6 L150.2 1033.3" class="k"/>
<path d="M146.3 1024.5 L198.5 1048.7" class="b"/>
<path d="M134.5 1040.2 C140.2 1044.0 157.3 1056.0 168.9 1062.9 C180.6 1069.8 198.5 1078.5 204.4 1081.6" class="k"/>
<path d="M175.8 1044.2 L177.8 1048.1 L180.7 1045.1" class="k"/>
<path d="M184.7 1040.2 L187.6 1037.3" class="k"/>
<path d="M164.0 1026.4 L166.0 1032.3" class="k"/>
<circle cx="124" cy="1022.5" r="4.2" class="w" style="stroke-width:1.4"/><circle cx="124" cy="1022.5" r="2" class="f"/>
<circle cx="164.5" cy="1026.6" r="1" class="k"/>
<path d="M750.7 842.1 L753.8 834.4 L759.9 830.6 L765.3 828.3 L778.3 823.7 L799.7 818.3 L804.3 813.0 L808.1 815.3 L812.0 816.8 L822.7 813.0 L823.5 806.8 L828.1 800.7 L834.9 799.2 L840.3 803.8 L841.8 811.4 L841.8 816.0 L850.3 819.1 L864.0 818.3 L853.3 822.9 L839.5 834.4 L833.4 839.8 L816.6 843.6 L801.3 849.7 L790.5 857.4 L779.8 865.0 L770.6 865.0 L761.4 862.0 L755.3 857.4 L752.3 851.3 Z" class="w" style="stroke-width:1.3"/>
<ellipse cx="780.1" cy="838.2" rx="15.3" ry="13" class="w" style="stroke-width:1.7" transform="rotate(20 780.1 838.2)"/>
<ellipse cx="780.1" cy="838.2" rx="13.3" ry="11.2" class="k" transform="rotate(20 780.1 838.2)"/>
<path d="M770.6 845.1 C771.9 844.5 775.7 841.3 778.3 841.3 C780.8 841.3 784.2 843.6 785.9 845.1 C787.7 846.7 788.5 849.6 789.0 850.5" class="k"/>
<path d="M769.1 840.5 C770.4 842.1 773.7 847.9 776.8 849.7 C779.8 851.5 785.7 851.0 787.5 851.3" class="k"/>
<path d="M754.5 835.2 L763.0 832.1" class="b"/>
<path d="M755.3 840.5 L759.1 843.6 L758.4 851.3 L755.3 857.4" class="k"/>
<path d="M750.7 842.1 L755.3 840.5 L764.5 842.1" class="k"/>
<path d="M761.4 846.7 L765.3 847.0 L765.3 849.4 L761.4 849.1 Z" class="k"/>
<circle cx="759.9" cy="856.6" r="1.7" class="k"/>
<path d="M784.4 851.3 L785.9 862.0" class="k"/>
<path d="M799.7 819.1 L804.3 813.0 L808.1 815.3 L806.6 827.5 L801.3 828.3 Z" class="w" style="stroke-width:1.7"/>
<ellipse cx="825.8" cy="826.8" rx="13.0" ry="9.2" class="w" style="stroke-width:1.5" transform="rotate(-8 825.8 826.8)"/>
<ellipse cx="825.8" cy="826.8" rx="11.0" ry="7.6" class="k" style="stroke-width:1.5" transform="rotate(-8 825.8 826.8)"/>
<ellipse cx="825.8" cy="826.8" rx="9.0" ry="6.0" class="k" style="stroke-width:1.5" transform="rotate(-8 825.8 826.8)"/>
<path d="M822.7 820.6 C822.8 818.3 822.6 810.2 823.5 806.8 C824.4 803.5 826.1 802.0 828.1 800.7 C830.0 799.4 832.9 798.7 834.9 799.2 C837.0 799.7 839.2 801.7 840.3 803.8 C841.5 805.8 841.8 808.9 841.8 811.4 C841.8 814.0 841.5 817.2 840.3 819.1 C839.2 821.0 835.8 822.3 834.9 822.9" class="w"/>
<path d="M825.8 806.8 C827.0 807.2 830.9 809.3 833.4 809.1 C836.0 809.0 839.8 806.6 841.1 806.1" class="k"/>
<path d="M823.5 798.4 L830.4 799.5" class="k"/>
<path d="M818.1 809.1 L823.5 803.0" class="b" style="stroke-width:2.6"/>
<path d="M810.4 820.6 L816.6 816.0 L822.7 814.5" class="k"/>
<path d="M808.9 822.9 L815.0 821.4" class="b"/>
<circle cx="830.4" cy="824.9" r="2.3" class="f"/><circle cx="809.2" cy="837.8" r="2.7" class="f"/>
<circle cx="809.2" cy="837.8" r="1" fill="#fff"/>
<path d="M831.9 841.3 L816.6 845.9 L802.8 852.0 L792.1 859.7" class="k"/>
<path d="M834.9 835.9 L853.3 820.6" class="b"/>
<path d="M836.5 838.2 L856.4 821.4" class="k"/>
<path d="M838.0 822.9 L839.5 834.4" class="b"/>
<path d="M801.3 849.7 L802.0 852.8" class="k"/>
<path d="M699.8 914.1 C701.3 911.1 708.1 906.5 713.6 902.2 C719.2 898.0 726.4 892.4 733.3 888.5 C740.2 884.5 749.1 879.9 755.0 878.6 C760.9 877.3 765.5 878.9 768.8 880.6 C772.1 882.2 773.4 885.7 774.7 888.5 C776.0 891.3 777.6 894.5 776.6 897.3 C775.7 900.1 768.8 903.4 768.8 905.2 C768.8 907.0 773.7 908.0 776.6 908.2 C779.6 908.3 783.9 905.5 786.5 906.2 C789.1 906.8 788.8 909.8 792.4 912.1 C796.0 914.4 802.6 917.7 808.2 920.0 C813.7 922.3 822.6 923.9 825.9 925.9 C829.2 927.8 828.2 929.5 827.8 931.8 C827.5 934.1 827.2 936.7 823.9 939.7 C820.6 942.6 813.4 946.6 808.2 949.5 C802.9 952.5 798.0 955.1 792.4 957.4 C786.8 959.7 780.3 962.0 774.7 963.3 C769.1 964.6 763.8 965.3 758.9 965.3 C754.0 965.3 748.4 964.6 745.1 963.3 C741.9 962.0 739.9 959.7 739.2 957.4 C738.6 955.1 741.5 952.1 741.2 949.5 C740.9 946.9 739.9 943.9 737.3 941.6 C734.6 939.3 729.7 936.5 725.4 935.7 C721.2 934.9 714.3 938.0 711.7 936.7 C709.0 935.4 710.8 930.6 709.7 927.8 C708.5 925.1 706.4 922.3 704.8 920.0 C703.1 917.7 698.4 917.0 699.8 914.1 Z" class="w"/>
<path d="M753.0 893.4 L772.7 884.5" class="k"/>
<path d="M753.0 893.4 L764.8 906.2 L776.6 897.3" class="k"/>
<path d="M764.8 903.2 L775.7 895.4" class="k"/>
<path d="M729.4 907.2 L753.0 896.3" class="k"/>
<path d="M764.8 906.2 L776.6 916.0" class="k"/>
<path d="M709.7 920.0 C713.0 918.7 722.8 910.8 729.4 912.1 C735.9 913.4 745.1 923.9 749.1 927.8 C753.0 931.8 752.7 931.5 753.0 935.7 C753.3 940.0 751.4 950.5 751.0 953.5" class="k"/>
<path d="M725.4 916.0 L722.5 923.9" class="k"/>
<path d="M755.0 931.8 L780.6 916.0 L786.5 916.0 L800.3 931.8 L772.7 945.6 L755.0 939.7 Z" class="w"/>
<ellipse cx="775.7" cy="930.8" rx="8.6" ry="7.6" class="k" transform="rotate(20 775.7 930.8)"/>
<path d="M777.6 925.9 L781.6 931.8 L779.6 935.7" class="k"/>
<circle cx="758.9" cy="934.7" r="2.2" class="b"/><circle cx="785.9" cy="919.6" r="2.2" class="b"/><circle cx="762.5" cy="918" r="1.8" class="k"/>
<path d="M800.3 931.8 L808.2 920.0" class="k"/>
<path d="M800.3 931.8 L823.9 939.7" class="k"/>
<path d="M786.5 916.0 L792.4 912.1" class="k"/>
<path d="M796.3 927.8 L808.2 923.9 L810.1 920.0" class="k"/>
<ellipse cx="820" cy="928" rx="1.8" ry="1.2" class="f"/>
<path d="M739.2 957.4 L753.0 953.5 L772.7 945.6 L792.4 957.4" class="k"/>
<path d="M743.2 961.3 L758.9 965.3" class="k"/>
<path d="M772.7 945.6 L768.8 963.3" class="k"/>
<path d="M753.0 923.9 L757.9 926.9" class="b" style="stroke-width:2.2"/>
<path d="M773.7 913.1 L777.6 917.0" class="b" style="stroke-width:2.2"/>
<path d="M800.3 947.5 C802.9 946.6 811.8 943.6 816.0 941.6 C820.3 939.7 824.2 936.7 825.9 935.7" class="k"/>
<ellipse cx="745.2" cy="1065.8" rx="20.8" ry="12.9" class="w" style="stroke-width:1.2"/>
<ellipse cx="745.2" cy="1064.6" rx="18.3" ry="10.8" class="k"/>
<ellipse cx="745.2" cy="1060.6" rx="9.4" ry="5.8" class="w"/>
<ellipse cx="745.2" cy="1057.4" rx="9.4" ry="5.8" class="w"/>
<ellipse cx="745.2" cy="1055.4" rx="6.2" ry="3.7" class="w"/>
<circle cx="745.2" cy="1053" r="3.4" class="f"/>
<path d="M701.6 1039.8 L704.7 1036.7 L708.8 1038.7 L720.3 1048.1 L730.7 1041.8 L731.7 1032.5 L728.6 1025.2 L731.7 1022.1 L735.9 1024.2 L740.0 1037.7 L741.1 1048.1 L745.2 1052.2 L739.0 1056.4 L728.6 1053.3 L716.1 1051.2 Z" class="w" style="stroke-width:1.3"/>
<circle cx="704.7" cy="1039.4" r="1.3" class="k"/><circle cx="732.1" cy="1024.6" r="1.3" class="f"/>
<path d="M749.4 1051.2 L752.5 1049.1 L753.5 1052.2" class="b"/>
<g transform="rotate(25 704.1 964.0)"><ellipse cx="704.1" cy="964.8" rx="5.0" ry="4.0" class="w" style="stroke-width:1.9"/>
<ellipse cx="704.1" cy="963.3" rx="4.1" ry="3.0" class="w" style="stroke-width:1.6"/>
<ellipse cx="704.1" cy="963.3" rx="1.8" ry="1.3" class="k" style="stroke-width:1.2"/></g>
<g transform="rotate(25 718.8 1014.4)"><ellipse cx="718.8" cy="1015.2" rx="5.0" ry="4.0" class="w" style="stroke-width:1.9"/>
<ellipse cx="718.8" cy="1013.7" rx="4.1" ry="3.0" class="w" style="stroke-width:1.6"/>
<ellipse cx="718.8" cy="1013.7" rx="1.8" ry="1.3" class="k" style="stroke-width:1.2"/></g>
<g transform="rotate(25 742.7 1003.0)"><ellipse cx="742.7" cy="1003.8" rx="5.0" ry="4.0" class="w" style="stroke-width:1.9"/>
<ellipse cx="742.7" cy="1002.3" rx="4.1" ry="3.0" class="w" style="stroke-width:1.6"/>
<ellipse cx="742.7" cy="1002.3" rx="1.8" ry="1.3" class="k" style="stroke-width:1.2"/></g>
<g transform="translate(692.2 988.8) rotate(209) scale(0.90)"><rect x="-2.5" y="2" width="5" height="11.5" rx="0.8" class="w" style="stroke-width:1.3"/><path d="M-2.5 4.0 L2.5 4.7" class="k" style="stroke-width:1.1"/><path d="M-2.5 5.9 L2.5 6.6" class="k" style="stroke-width:1.1"/><path d="M-2.5 7.8 L2.5 8.5" class="k" style="stroke-width:1.1"/><path d="M-2.5 9.7 L2.5 10.4" class="k" style="stroke-width:1.1"/><path d="M-2.5 11.6 L2.5 12.3" class="k" style="stroke-width:1.1"/><rect x="-3.7" y="-5.2" width="7.4" height="5" rx="1.2" class="w" style="stroke-width:1.6"/><ellipse cx="0" cy="0.8" rx="4.8" ry="2.3" class="w" style="stroke-width:1.7"/><path d="M-1.4 -5 L-1.4 -1.6 M1.6 -5 L1.6 -1.6 M-3 -3.4 L3 -3.4" class="k" style="stroke-width:1.1"/></g>
<g transform="translate(678.7 1092.8) rotate(207) scale(0.90)"><rect x="-2.5" y="2" width="5" height="11.5" rx="0.8" class="w" style="stroke-width:1.3"/><path d="M-2.5 4.0 L2.5 4.7" class="k" style="stroke-width:1.1"/><path d="M-2.5 5.9 L2.5 6.6" class="k" style="stroke-width:1.1"/><path d="M-2.5 7.8 L2.5 8.5" class="k" style="stroke-width:1.1"/><path d="M-2.5 9.7 L2.5 10.4" class="k" style="stroke-width:1.1"/><path d="M-2.5 11.6 L2.5 12.3" class="k" style="stroke-width:1.1"/><rect x="-3.7" y="-5.2" width="7.4" height="5" rx="1.2" class="w" style="stroke-width:1.6"/><ellipse cx="0" cy="0.8" rx="4.8" ry="2.3" class="w" style="stroke-width:1.7"/><path d="M-1.4 -5 L-1.4 -1.6 M1.6 -5 L1.6 -1.6 M-3 -3.4 L3 -3.4" class="k" style="stroke-width:1.1"/></g>
<path d="M704.4 558.8 C707.2 555.8 713.1 549.1 718.7 544.5 C724.3 539.8 731.5 534.4 737.9 531.1 C744.2 527.7 750.5 525.8 757.0 524.4 C763.6 522.9 770.4 522.3 777.1 522.4 C783.8 522.6 790.7 523.4 797.2 525.3 C803.8 527.2 810.0 530.3 816.4 533.9 C822.7 537.6 830.1 543.3 835.5 547.3 C840.9 551.3 846.2 555.3 848.9 557.9 C851.6 560.4 852.9 559.1 851.8 562.7 C850.7 566.2 846.4 572.9 842.2 578.9 C838.1 585.0 832.5 593.3 826.9 599.0 C821.3 604.8 814.9 609.9 808.7 613.4 C802.5 616.9 794.8 618.8 789.6 620.1 C784.3 621.4 780.9 621.0 777.1 621.0 C773.3 621.0 771.8 621.5 766.6 620.1 C761.3 618.7 752.2 616.3 745.5 612.4 C738.8 608.6 732.1 602.7 726.4 597.1 C720.6 591.5 715.2 584.7 711.1 578.9 C706.9 573.2 702.6 566.0 701.5 562.7 C700.4 559.3 701.5 561.9 704.4 558.8 Z" class="w"/>
<path d="M704.4 558.8 C705.8 561.2 709.0 567.6 713.0 573.2 C717.0 578.8 722.5 586.6 728.3 592.3 C734.0 598.1 741.1 603.8 747.4 607.6 C753.8 611.5 761.6 613.9 766.6 615.3 C771.5 616.7 773.3 616.3 777.1 616.3 C780.9 616.2 784.6 616.2 789.6 614.9 C794.5 613.6 801.0 612.0 806.8 608.6 C812.5 605.2 818.6 599.8 824.0 594.2 C829.4 588.7 835.2 581.2 839.3 575.1 C843.5 569.0 847.3 560.7 848.9 557.9" class="b"/>
<path d="M703.0 560.2 C704.5 562.7 707.6 569.4 711.6 575.1 C715.7 580.8 721.5 588.8 727.3 594.6 C733.1 600.4 739.9 606.1 746.5 609.9 C753.0 613.8 761.5 616.2 766.6 617.6 C771.7 619.0 773.3 618.6 777.1 618.6 C780.9 618.5 784.5 618.5 789.6 617.2 C794.7 615.9 801.8 614.3 807.7 610.9 C813.7 607.5 819.8 602.2 825.4 596.5 C830.9 590.9 836.7 583.2 840.9 577.0 C845.1 570.8 848.8 562.3 850.4 559.4" class="k"/>
<path d="M731.2 592.7 C733.9 592.0 741.5 589.6 747.4 588.5 C753.3 587.4 760.2 586.6 766.6 586.2 C773.0 585.8 779.3 585.8 785.7 586.2 C792.1 586.6 798.8 587.6 804.9 588.9 C810.9 590.2 819.2 593.0 822.1 593.9" class="k"/>
<circle cx="700.5" cy="567.4" r="1.9" class="w" style="stroke-width:1.2"/>
<circle cx="716.8" cy="588.5" r="1.9" class="w" style="stroke-width:1.2"/>
<circle cx="746.5" cy="614.3" r="1.9" class="w" style="stroke-width:1.2"/>
<circle cx="804.9" cy="613.4" r="1.9" class="w" style="stroke-width:1.2"/>
<circle cx="835.5" cy="588.5" r="1.9" class="w" style="stroke-width:1.2"/>
<circle cx="851.8" cy="567.4" r="1.9" class="w" style="stroke-width:1.2"/>
<path d="M766.6 620.1 L768.5 623.0 L772.3 623.0 L773.3 621.0 L780.0 621.0 L780.9 623.0 L784.8 623.0 L786.7 620.1" class="k"/>
<rect x="761.2" y="595.5" width="32" height="5.6" fill="#111"/>
<text x="777.2" y="600.3" font-family="Liberation Sans,sans-serif" font-weight="bold" font-size="5.6" fill="#fff" text-anchor="middle" textLength="29" lengthAdjust="spacingAndGlyphs">Kawasaki</text>
<path d="M42.8 19.8 L48.6 16.1 L48.6 28.2 L95.8 55.3 L95.8 81.4 L90.1 83.8 L90.1 58.2 L42.8 31.2 Z M42.8 57.1 L48.6 60.2 L48.6 65.6 L42.8 68.1 Z" fill="#000" stroke="#000" stroke-width="1" stroke-linejoin="round"/>
<path d="M28.7 36.4 L42.8 19.8 L42.8 31.2 L90.1 58.2 L90.1 83.8 L42.8 57.1 L42.8 68.1 Z" fill="#fff" stroke="#000" stroke-width="1.1" stroke-linejoin="round"/>
<text transform="translate(37 49.2) skewY(30) scale(0.5 1)" x="0 22.6 44.2 67.6 90.4" y="0" font-family="Liberation Sans,sans-serif" font-weight="bold" font-size="21.5" fill="#000">FRONT</text>
<g transform="translate(188.5 58.5) rotate(-60)"><path d="M-3.2 0 L-3.2 8.0 A3.2 1.6 0 0 0 3.2 8.0 L3.2 0" class="w"/><ellipse cx="0" cy="0" rx="3.8" ry="2.2" class="w" style="stroke-width:1.5"/><ellipse cx="0" cy="0" rx="1.4" ry="0.9" class="f"/></g>
<g transform="translate(115.5 140.5) rotate(-57) scale(0.72)"><rect x="-2.5" y="2" width="5" height="8.0" rx="0.8" class="w" style="stroke-width:1.3"/><path d="M-2.5 4.0 L2.5 4.7" class="k" style="stroke-width:1.1"/><path d="M-2.5 5.9 L2.5 6.6" class="k" style="stroke-width:1.1"/><path d="M-2.5 7.8 L2.5 8.5" class="k" style="stroke-width:1.1"/><rect x="-3.7" y="-5.2" width="7.4" height="5" rx="1.2" class="w" style="stroke-width:1.6"/><ellipse cx="0" cy="0.8" rx="4.6" ry="2.3" class="w" style="stroke-width:1.7"/><path d="M-1.4 -5 L-1.4 -1.6 M1.6 -5 L1.6 -1.6 M-3 -3.4 L3 -3.4" class="k" style="stroke-width:1.1"/></g>
<ellipse cx="155.2" cy="172.8" rx="3.2" ry="1.8" class="w" style="stroke-width:1.6" transform="rotate(-35 155.2 172.8)"/>
<ellipse cx="155.2" cy="172.8" rx="1.4" ry="0.8" class="k" style="stroke-width:1.3" transform="rotate(-35 155.2 172.8)"/>
<ellipse cx="582.8" cy="70.5" rx="4.0" ry="3.4" class="w" style="stroke-width:1.6"/>
<ellipse cx="582.8" cy="70.5" rx="1.8" ry="1.5" class="k" style="stroke-width:1.3"/>
<g transform="translate(645.9 54.6) rotate(80)"><rect x="-1.6" y="1.5" width="3.2" height="5.5" rx="0.8" class="w" style="stroke-width:1.2"/><path d="M-1.6 3.4 L1.6 4.0" class="k" style="stroke-width:1.1"/><path d="M-1.6 5.1 L1.6 5.7" class="k" style="stroke-width:1.1"/><ellipse cx="0" cy="0" rx="3.6" ry="2.9" class="w" style="stroke-width:1.7"/><path d="M-2.2 0.4 L2.2 -0.6 M-0.4 -1.6 L0.6 1.6" class="k" style="stroke-width:1.2"/></g>
<path d="M588.1 96.6 L594.5 96 L596.9 98.6 L596.9 101.5 L588.1 101.5 Z M594.5 96 L594.5 101.5" class="w"/>
<g transform="translate(619.1 119.9) rotate(18)"><rect x="-1.6" y="1.5" width="3.2" height="6.0" rx="0.8" class="w" style="stroke-width:1.2"/><path d="M-1.6 3.4 L1.6 4.0" class="k" style="stroke-width:1.1"/><path d="M-1.6 5.1 L1.6 5.7" class="k" style="stroke-width:1.1"/><path d="M-1.6 6.8 L1.6 7.4" class="k" style="stroke-width:1.1"/><ellipse cx="0" cy="0" rx="3.6" ry="2.9" class="w" style="stroke-width:1.7"/><path d="M-2.2 0.4 L2.2 -0.6 M-0.4 -1.6 L0.6 1.6" class="k" style="stroke-width:1.2"/></g>
<g transform="translate(720.9 146.5) rotate(24)"><rect x="-1.6" y="1.5" width="3.2" height="10.0" rx="0.8" class="w" style="stroke-width:1.2"/><path d="M-1.6 3.4 L1.6 4.0" class="k" style="stroke-width:1.1"/><path d="M-1.6 5.1 L1.6 5.7" class="k" style="stroke-width:1.1"/><path d="M-1.6 6.8 L1.6 7.4" class="k" style="stroke-width:1.1"/><path d="M-1.6 8.5 L1.6 9.1" class="k" style="stroke-width:1.1"/><path d="M-1.6 10.2 L1.6 10.8" class="k" style="stroke-width:1.1"/><ellipse cx="0" cy="0" rx="4.0" ry="2.9" class="w" style="stroke-width:1.7"/><path d="M-2.2 0.4 L2.2 -0.6 M-0.4 -1.6 L0.6 1.6" class="k" style="stroke-width:1.2"/></g>
<ellipse cx="707.5" cy="170.2" rx="4.2" ry="2.7" class="w" style="stroke-width:1.6" transform="rotate(15 707.5 170.2)"/>
<ellipse cx="707.5" cy="170.2" rx="1.9" ry="1.2" class="k" style="stroke-width:1.3" transform="rotate(15 707.5 170.2)"/>
<g transform="translate(770.6 210.3) rotate(28)"><rect x="-1.6" y="1.5" width="3.2" height="11.0" rx="0.8" class="w" style="stroke-width:1.2"/><path d="M-1.6 3.4 L1.6 4.0" class="k" style="stroke-width:1.1"/><path d="M-1.6 5.1 L1.6 5.7" class="k" style="stroke-width:1.1"/><path d="M-1.6 6.8 L1.6 7.4" class="k" style="stroke-width:1.1"/><path d="M-1.6 8.5 L1.6 9.1" class="k" style="stroke-width:1.1"/><path d="M-1.6 10.2 L1.6 10.8" class="k" style="stroke-width:1.1"/><path d="M-1.6 11.9 L1.6 12.5" class="k" style="stroke-width:1.1"/><ellipse cx="0" cy="0" rx="4.0" ry="2.9" class="w" style="stroke-width:1.7"/><path d="M-2.2 0.4 L2.2 -0.6 M-0.4 -1.6 L0.6 1.6" class="k" style="stroke-width:1.2"/></g>
<ellipse cx="756.5" cy="235.9" rx="4.2" ry="2.7" class="w" style="stroke-width:1.6" transform="rotate(15 756.5 235.9)"/>
<ellipse cx="756.5" cy="235.9" rx="1.9" ry="1.2" class="k" style="stroke-width:1.3" transform="rotate(15 756.5 235.9)"/>
<g transform="translate(394.0 274.3) rotate(0) scale(1.00)"><rect x="-2.5" y="2" width="5" height="9.5" rx="0.8" class="w" style="stroke-width:1.3"/><path d="M-2.5 4.0 L2.5 4.7" class="k" style="stroke-width:1.1"/><path d="M-2.5 5.9 L2.5 6.6" class="k" style="stroke-width:1.1"/><path d="M-2.5 7.8 L2.5 8.5" class="k" style="stroke-width:1.1"/><path d="M-2.5 9.7 L2.5 10.4" class="k" style="stroke-width:1.1"/><rect x="-3.7" y="-5.2" width="7.4" height="5" rx="1.2" class="w" style="stroke-width:1.6"/><ellipse cx="0" cy="0.8" rx="5.2" ry="2.3" class="w" style="stroke-width:1.7"/><path d="M-1.4 -5 L-1.4 -1.6 M1.6 -5 L1.6 -1.6 M-3 -3.4 L3 -3.4" class="k" style="stroke-width:1.1"/></g>
<g transform="translate(425.2 324.3) rotate(0) scale(1.00)"><rect x="-2.5" y="2" width="5" height="10.5" rx="0.8" class="w" style="stroke-width:1.3"/><path d="M-2.5 4.0 L2.5 4.7" class="k" style="stroke-width:1.1"/><path d="M-2.5 5.9 L2.5 6.6" class="k" style="stroke-width:1.1"/><path d="M-2.5 7.8 L2.5 8.5" class="k" style="stroke-width:1.1"/><path d="M-2.5 9.7 L2.5 10.4" class="k" style="stroke-width:1.1"/><path d="M-2.5 11.6 L2.5 12.3" class="k" style="stroke-width:1.1"/><rect x="-3.7" y="-5.2" width="7.4" height="5" rx="1.2" class="w" style="stroke-width:1.6"/><ellipse cx="0" cy="0.8" rx="4.6" ry="2.3" class="w" style="stroke-width:1.7"/><path d="M-1.4 -5 L-1.4 -1.6 M1.6 -5 L1.6 -1.6 M-3 -3.4 L3 -3.4" class="k" style="stroke-width:1.1"/></g>
<g transform="translate(354.9 343.0) rotate(0) scale(1.00)"><rect x="-2.5" y="2" width="5" height="9.5" rx="0.8" class="w" style="stroke-width:1.3"/><path d="M-2.5 4.0 L2.5 4.7" class="k" style="stroke-width:1.1"/><path d="M-2.5 5.9 L2.5 6.6" class="k" style="stroke-width:1.1"/><path d="M-2.5 7.8 L2.5 8.5" class="k" style="stroke-width:1.1"/><path d="M-2.5 9.7 L2.5 10.4" class="k" style="stroke-width:1.1"/><rect x="-3.7" y="-5.2" width="7.4" height="5" rx="1.2" class="w" style="stroke-width:1.6"/><ellipse cx="0" cy="0.8" rx="5.2" ry="2.3" class="w" style="stroke-width:1.7"/><path d="M-1.4 -5 L-1.4 -1.6 M1.6 -5 L1.6 -1.6 M-3 -3.4 L3 -3.4" class="k" style="stroke-width:1.1"/></g>
<g transform="translate(346.3 403.0) rotate(0) scale(1.00)"><rect x="-2.5" y="2" width="5" height="10.5" rx="0.8" class="w" style="stroke-width:1.3"/><path d="M-2.5 4.0 L2.5 4.7" class="k" style="stroke-width:1.1"/><path d="M-2.5 5.9 L2.5 6.6" class="k" style="stroke-width:1.1"/><path d="M-2.5 7.8 L2.5 8.5" class="k" style="stroke-width:1.1"/><path d="M-2.5 9.7 L2.5 10.4" class="k" style="stroke-width:1.1"/><path d="M-2.5 11.6 L2.5 12.3" class="k" style="stroke-width:1.1"/><rect x="-3.7" y="-5.2" width="7.4" height="5" rx="1.2" class="w" style="stroke-width:1.6"/><ellipse cx="0" cy="0.8" rx="4.4" ry="2.3" class="w" style="stroke-width:1.7"/><path d="M-1.4 -5 L-1.4 -1.6 M1.6 -5 L1.6 -1.6 M-3 -3.4 L3 -3.4" class="k" style="stroke-width:1.1"/></g>
<g transform="rotate(20 440.2 485.5)"><ellipse cx="440.2" cy="486.3" rx="4.4" ry="3.5" class="w" style="stroke-width:1.9"/>
<ellipse cx="440.2" cy="484.8" rx="3.6" ry="2.6" class="w" style="stroke-width:1.6"/>
<ellipse cx="440.2" cy="484.8" rx="1.6" ry="1.1" class="k" style="stroke-width:1.2"/></g>
<g transform="rotate(20 382.9 524.2)"><ellipse cx="382.9" cy="525.0" rx="5.2" ry="4.2" class="w" style="stroke-width:1.9"/>
<ellipse cx="382.9" cy="523.5" rx="4.3" ry="3.1" class="w" style="stroke-width:1.6"/>
<ellipse cx="382.9" cy="523.5" rx="1.9" ry="1.4" class="k" style="stroke-width:1.2"/></g>
<g transform="translate(275.7 560.2) rotate(78)"><rect x="-1.6" y="1.5" width="3.2" height="6.0" rx="0.8" class="w" style="stroke-width:1.2"/><path d="M-1.6 3.4 L1.6 4.0" class="k" style="stroke-width:1.1"/><path d="M-1.6 5.1 L1.6 5.7" class="k" style="stroke-width:1.1"/><path d="M-1.6 6.8 L1.6 7.4" class="k" style="stroke-width:1.1"/><ellipse cx="0" cy="0" rx="3.8" ry="2.9" class="w" style="stroke-width:1.7"/><path d="M-2.2 0.4 L2.2 -0.6 M-0.4 -1.6 L0.6 1.6" class="k" style="stroke-width:1.2"/></g>
<ellipse cx="214.0" cy="576.6" rx="4.0" ry="3.4" class="w" style="stroke-width:1.6"/>
<ellipse cx="214.0" cy="576.6" rx="1.8" ry="1.5" class="k" style="stroke-width:1.3"/>
<path d="M112.7 539.4 L119.3 533.9 L123.2 537.2 L116.6 543.8 Z M114.3 538.6 L118.2 542.2" class="w"/>
<g transform="translate(124.8 575.5) rotate(0)"><rect x="-1.6" y="1.5" width="3.2" height="7.0" rx="0.8" class="w" style="stroke-width:1.2"/><path d="M-1.6 3.4 L1.6 4.0" class="k" style="stroke-width:1.1"/><path d="M-1.6 5.1 L1.6 5.7" class="k" style="stroke-width:1.1"/><path d="M-1.6 6.8 L1.6 7.4" class="k" style="stroke-width:1.1"/><ellipse cx="0" cy="0" rx="4.4" ry="2.9" class="w" style="stroke-width:1.7"/><path d="M-2.2 0.4 L2.2 -0.6 M-0.4 -1.6 L0.6 1.6" class="k" style="stroke-width:1.2"/></g>
<ellipse cx="124.8" cy="607.2" rx="4.4" ry="2.6" class="w" style="stroke-width:1.6"/>
<ellipse cx="124.8" cy="607.2" rx="2.0" ry="1.2" class="k" style="stroke-width:1.3"/>
<g transform="translate(124.8 706.5) rotate(0)"><path d="M-4.0 0 L-4.0 9.0 A4.0 1.6 0 0 0 4.0 9.0 L4.0 0" class="w"/><ellipse cx="0" cy="0" rx="4.6" ry="2.2" class="w" style="stroke-width:1.5"/><ellipse cx="0" cy="0" rx="1.8" ry="0.9" class="f"/></g>
<g transform="translate(51 634) rotate(-80)"><path d="M-3.5 0 A3.5 4.5 0 0 1 3.5 0 Z" class="w" style="stroke-width:1.4"/><rect x="-1.8" y="0" width="3.6" height="6" class="w"/></g>
<g transform="translate(261.0 644.8) rotate(-10)"><rect x="-1.6" y="1.5" width="3.2" height="12.0" rx="0.8" class="w" style="stroke-width:1.2"/><path d="M-1.6 3.4 L1.6 4.0" class="k" style="stroke-width:1.1"/><path d="M-1.6 5.1 L1.6 5.7" class="k" style="stroke-width:1.1"/><path d="M-1.6 6.8 L1.6 7.4" class="k" style="stroke-width:1.1"/><path d="M-1.6 8.5 L1.6 9.1" class="k" style="stroke-width:1.1"/><path d="M-1.6 10.2 L1.6 10.8" class="k" style="stroke-width:1.1"/><path d="M-1.6 11.9 L1.6 12.5" class="k" style="stroke-width:1.1"/><ellipse cx="0" cy="0" rx="4.2" ry="2.9" class="w" style="stroke-width:1.7"/><path d="M-2.2 0.4 L2.2 -0.6 M-0.4 -1.6 L0.6 1.6" class="k" style="stroke-width:1.2"/></g>
<ellipse cx="266.0" cy="673.7" rx="4.2" ry="2.6" class="w" style="stroke-width:1.6" transform="rotate(10 266.0 673.7)"/>
<ellipse cx="266.0" cy="673.7" rx="1.9" ry="1.2" class="k" style="stroke-width:1.3" transform="rotate(10 266.0 673.7)"/>
<ellipse cx="189.6" cy="961.9" rx="4.4" ry="2.6" class="w" style="stroke-width:1.6"/>
<ellipse cx="189.6" cy="961.9" rx="2.0" ry="1.2" class="k" style="stroke-width:1.3"/>
<g transform="translate(189.6 996) rotate(180)"><rect x="-1.8" y="1" width="3.6" height="14" class="w"/><path d="M-1.8 4.0 L1.8 4.5" class="k"/><path d="M-1.8 6.0 L1.8 6.5" class="k"/><path d="M-1.8 8.0 L1.8 8.5" class="k"/><path d="M-1.8 10.0 L1.8 10.5" class="k"/><path d="M-1.8 12.0 L1.8 12.5" class="k"/><path d="M-1.8 14.0 L1.8 14.5" class="k"/><ellipse cx="0" cy="0" rx="4.4" ry="2.6" class="w" style="stroke-width:1.5"/></g>
</g>
<g id="leaders">
<path d="M190.6 23.0 L190.6 55.0" class="k"/>
<path d="M118.0 106.0 L118.0 137.0" class="k"/>
<path d="M157.4 138.0 L157.4 170.0" class="k"/>
<path d="M45.6 195.6 L45.6 228.0" class="k"/>
<path d="M113.0 314.0 L113.0 332.0 L173.0 311.0" class="k"/>
<path d="M138.0 358.0 L170.0 358.0" class="k"/>
<path d="M174.6 50.0 L229.5 233.0" class="k"/>
<path d="M174.6 50.0 L186.0 57.0" class="k"/>
<path d="M196.0 66.5 L216.0 87.0" class="k"/>
<path d="M128.0 151.0 L153.0 171.0" class="k"/>
<path d="M158.0 176.0 L213.0 223.5" class="k"/>
<path d="M136.4 235.5 L213.0 256.0" class="k"/>
<path d="M262.8 299.4 L206.1 479.4 L319.5 508.6" class="k"/>
<path d="M417.0 44.2 L447.0 44.2" class="k"/>
<path d="M307.0 143.0 L339.0 143.0" class="k"/>
<path d="M582.8 33.0 L582.8 65.0" class="k"/>
<path d="M561.9 76.5 L574.1 73.5" class="k"/>
<path d="M561.9 76.5 L596.0 140.0" class="k"/>
<path d="M586.4 69.7 L633.7 57.4" class="k"/>
<path d="M556.8 159.7 L574.0 154.0" class="k"/>
<path d="M557.5 229.5 L590.0 229.5" class="k"/>
<path d="M536.9 242.2 L577.5 264.5 L588.4 246.8" class="k"/>
<path d="M605.0 216.0 L596.7 229.5" class="k"/>
<path d="M408.8 168.0 L498.6 219.6" class="k"/>
<path d="M408.8 168.0 L403.2 177.6" class="k"/>
<path d="M394.4 193.3 L381.6 215.0" class="k"/>
<path d="M347.0 160.0 L317.3 251.2 L528.5 262.8 L493.6 352.6" class="k"/>
<path d="M400.5 276.0 L431.0 276.0" class="k"/>
<path d="M393.8 288.5 L393.8 303.0" class="k"/>
<path d="M393.8 318.0 L393.8 457.0" class="k"/>
<path d="M409.8 300.4 L442.0 300.4" class="k"/>
<path d="M430.4 324.3 L461.0 324.3" class="k"/>
<path d="M424.8 342.6 L424.8 374.0" class="k"/>
<path d="M424.8 388.6 L424.8 453.5" class="k"/>
<path d="M317.3 342.6 L349.0 342.6" class="k"/>
<path d="M354.6 358.5 L354.6 433.0" class="k"/>
<path d="M354.6 437.0 L354.6 489.0" class="k"/>
<path d="M354.6 521.5 L354.6 563.0" class="k"/>
<path d="M354.9 369.5 L385.4 352.6 L385.4 460.0" class="k"/>
<path d="M507.0 359.3 L448.7 374.3" class="k"/>
<path d="M645.6 18.3 L645.6 50.0" class="k"/>
<path d="M597.8 98.0 L630.2 98.0" class="k"/>
<path d="M593.4 101.5 L612.6 133.9" class="k"/>
<path d="M617.0 127.0 L614.4 138.3" class="k"/>
<path d="M623.2 119.9 L655.5 119.9" class="k"/>
<path d="M724.8 146.4 L756.4 146.4" class="k"/>
<path d="M711.5 170.7 L743.0 170.7" class="k"/>
<path d="M626.6 173.0 L639.3 155.7 L698.0 188.0 L704.8 176.3" class="k"/>
<path d="M775.3 211.2 L806.3 211.2" class="k"/>
<path d="M761.4 236.9 L792.3 236.9" class="k"/>
<path d="M753.0 244.5 L728.0 286.0" class="k"/>
<path d="M739.7 285.4 L771.3 285.4" class="k"/>
<path d="M579.5 306.7 L829.6 306.7 L829.6 404.3 L676.5 404.3 L579.5 348.3 L579.5 306.7" class="k"/>
<path d="M676.5 377.0 L708.1 377.0" class="k"/>
<path d="M662.6 444.2 L691.5 444.2" class="k"/>
<path d="M687.2 468.5 L866.8 468.5 L866.8 642.4 L687.2 642.4 L687.2 468.5" class="k"/>
<path d="M274.5 525.0 L274.5 555.0" class="k"/>
<path d="M213.7 540.0 L213.7 571.6" class="k"/>
<path d="M265.7 562.5 L219.0 575.3" class="k"/>
<path d="M209.0 578.5 L184.6 585.0" class="k"/>
<path d="M80.8 542.3 L111.4 542.3" class="k"/>
<path d="M119.8 543.3 L156.4 604.9" class="k"/>
<path d="M164.7 545.0 L178.0 541.7 L158.0 591.6 L169.7 589.2" class="k"/>
<path d="M88.2 575.6 L119.8 575.6" class="k"/>
<path d="M88.2 607.2 L119.8 607.2" class="k"/>
<path d="M50.0 638.0 L50.0 669.7" class="k"/>
<path d="M59.2 634.8 L108.0 643.8" class="k"/>
<path d="M87.2 706.3 L119.8 706.3" class="k"/>
<path d="M199.6 613.8 L229.5 613.8" class="k"/>
<path d="M266.0 643.8 L297.7 643.8" class="k"/>
<path d="M271.0 673.7 L303.0 673.7" class="k"/>
<path d="M267.8 679.7 L276.0 713.0" class="k"/>
<path d="M124.8 586.6 L124.8 602.0" class="k"/>
<path d="M124.8 612.0 L124.8 660.0" class="k"/>
<path d="M124.8 680.0 L124.8 701.5" class="k"/>
<path d="M124.8 716.0 L124.8 734.0" class="k"/>
<path d="M309.0 402.0 L340.0 402.0" class="k"/>
<path d="M310.0 440.8 L342.3 440.8" class="k"/>
<path d="M400.5 412.0 L372.2 420.2 L376.5 440.2 L359.0 445.2" class="k"/>
<path d="M346.3 418.0 L346.3 437.5" class="k"/>
<path d="M346.3 453.5 L346.3 495.0" class="k"/>
<path d="M447.0 381.0 L477.0 381.0" class="k"/>
<path d="M477.0 395.3 L458.7 445.2" class="k"/>
<path d="M452.0 450.2 L442.0 480.0" class="k"/>
<path d="M462.0 445.2 L494.3 445.2" class="k"/>
<path d="M445.4 485.0 L477.0 485.0" class="k"/>
<path d="M388.8 524.0 L420.4 524.0" class="k"/>
<path d="M350.6 517.4 L377.9 521.7" class="k"/>
<path d="M549.5 556.0 L549.5 586.6" class="k"/>
<path d="M541.9 598.2 L512.0 613.2" class="k"/>
<path d="M531.9 603.0 L525.0 616.8 L518.1 621.0" class="k"/>
<path d="M427.0 574.0 L458.7 574.0" class="k"/>
<path d="M550.2 649.8 L580.8 649.8" class="k"/>
<path d="M364.5 704.7 L364.5 736.0" class="k"/>
<path d="M394.4 680.3 L423.7 664.1" class="k"/>
<path d="M440.6 665.7 L453.0 659.5" class="k"/>
<path d="M450.7 648.7 L465.0 641.0" class="k"/>
<path d="M414.4 671.8 L408.3 684.2 L425.2 678.0" class="k"/>
<path d="M91.5 769.0 L144.7 769.0 L217.9 811.2 L367.2 811.2 L367.2 866.2 L91.5 866.2 L91.5 769.0" class="k"/>
<path d="M267.8 787.2 L296.0 787.2" class="k"/>
<path d="M259.5 830.5 L290.0 830.5" class="k"/>
<path d="M218.0 878.7 L249.5 878.7" class="k"/>
<path d="M260.0 893.0 L260.0 903.7" class="k"/>
<path d="M260.0 922.0 L260.0 933.6" class="k"/>
<path d="M222.2 915.3 L254.5 915.3" class="k"/>
<path d="M153.0 961.9 L184.6 961.9" class="k"/>
<path d="M189.6 957.5 L189.6 943.0 L232.9 953.6" class="k"/>
<path d="M189.6 968.5 L189.6 978.5" class="k"/>
<path d="M153.0 992.8 L184.6 992.8" class="k"/>
<path d="M216.2 1088.3 L246.2 1088.3" class="k"/>
<path d="M246.2 979.5 L193.0 1031.7" class="k"/>
<path d="M261.1 1000.1 L292.7 1041.7" class="k"/>
<path d="M372.2 942.9 L402.1 942.9" class="k"/>
<path d="M334.0 1000.8 L367.9 1000.8" class="k"/>
<path d="M347.2 930.3 L330.6 990.2" class="d"/>
<path d="M304.0 1047.7 L334.6 1047.7" class="k"/>
<path d="M717.0 842.0 L749.7 842.0" class="k"/>
<path d="M667.2 915.3 L700.5 915.3" class="k"/>
<path d="M666.6 963.5 L698.2 963.5" class="k"/>
<path d="M655.0 988.5 L686.5 988.5" class="k"/>
<path d="M705.0 960.0 L709.8 952.9 L735.7 970.9 L741.4 963.5" class="k"/>
<path d="M680.5 1015.0 L711.5 1015.0" class="k"/>
<path d="M748.0 1005.0 L779.7 1005.0" class="k"/>
<path d="M669.2 1040.0 L701.5 1040.0" class="k"/>
<path d="M641.6 1091.6 L673.2 1091.6" class="k"/>
<path d="M797.3 861.9 L762.0 931.0" class="k"/>
<path d="M741.4 968.5 L686.5 1076.6 L716.5 1055.0" class="k"/>
<path d="M759.7 970.9 L746.4 996.8" class="k"/>
<path d="M738.0 1010.0 L723.0 1046.7" class="k"/>
<path d="M712.2 162.3 L709.1 168.2" class="k"/>
<path d="M763.3 224.7 L757.6 233.6" class="k"/>
</g>
<g id="labels">
<text class="l" transform="scale(1.06 1)" x="158.5 168.7 178.8 189.0 199.2" y="21.1" font-size="16.0" stroke-width="0.55">92015</text>
<text class="l" transform="scale(1.06 1)" x="428.0 438.2 448.4 458.5 468.7" y="50.5" font-size="16.0" stroke-width="0.55">39154</text>
<text class="l" transform="scale(1.06 1)" x="523.7 533.8 544.0 554.2 564.4 574.5" y="32.1" font-size="16.0" stroke-width="0.55">92200A</text>
<text class="l" transform="scale(1.06 1)" x="588.3 598.5 608.6 618.8 629.0" y="16.5" font-size="16.0" stroke-width="0.55">92154</text>
<text class="l" transform="scale(1.06 1)" x="775.2 782.8 790.4 798.0 805.6" y="9.7" font-size="11.5" stroke-width="0.50">F2870</text>
<text class="l" transform="scale(1.06 1)" x="85.8 95.9 106.1 116.3 126.4 136.6" y="102.8" font-size="16.0" stroke-width="0.55">92154A</text>
<text class="l" transform="scale(1.06 1)" x="128.0 138.2 148.4 158.5 168.7" y="134.9" font-size="16.0" stroke-width="0.55">92200</text>
<text class="l" transform="scale(1.06 1)" x="233.1 243.3 253.5 263.6 273.8 284.0" y="149.9" font-size="16.0" stroke-width="0.55">56001A</text>
<text class="l" transform="scale(1.06 1)" x="599.9 610.1 620.2 630.4 640.6 650.8" y="104.3" font-size="16.0" stroke-width="0.55">39156D</text>
<text class="l" transform="scale(1.06 1)" x="624.1 634.2 644.4 654.6 664.7" y="126.2" font-size="16.0" stroke-width="0.55">92075</text>
<text class="l" transform="scale(1.06 1)" x="719.8 730.0 740.2 750.3 760.5" y="153.5" font-size="16.0" stroke-width="0.55">92154</text>
<text class="l" transform="scale(1.06 1)" x="707.5 717.7 727.9 738.1 748.2 758.4" y="177.8" font-size="16.0" stroke-width="0.55">92200A</text>
<text class="l" transform="scale(1.06 1)" x="22.3 32.4 42.6 52.8 62.9" y="192.8" font-size="16.0" stroke-width="0.55">56001</text>
<text class="l" transform="scale(1.06 1)" x="766.9 777.1 787.2 797.4 807.6" y="218.7" font-size="16.0" stroke-width="0.55">92154</text>
<text class="l" transform="scale(1.06 1)" x="753.7 763.8 774.0 784.2 794.4 804.5" y="243.3" font-size="16.0" stroke-width="0.55">92200A</text>
<text class="l" transform="scale(1.06 1)" x="480.1 490.3 500.4 510.6 520.8" y="235.5" font-size="16.0" stroke-width="0.55">92015</text>
<text class="l" transform="scale(1.06 1)" x="734.0 744.1 754.3 764.5 774.6 784.8" y="291.9" font-size="16.0" stroke-width="0.55">55028B</text>
<text class="l" transform="scale(1.06 1)" x="412.5 422.7 432.9" y="281.5" font-size="16.0" stroke-width="0.55">130</text>
<text class="l" transform="scale(1.06 1)" x="423.3 433.5 443.6 453.8 464.0 474.2" y="305.9" font-size="16.0" stroke-width="0.55">11054A</text>
<text class="l" transform="scale(1.06 1)" x="442.1 452.2 462.4" y="330.8" font-size="16.0" stroke-width="0.55">132</text>
<text class="l" transform="scale(1.06 1)" x="583.4 593.6 603.7 613.9 624.1 634.2 644.4 654.6 664.8 674.9 685.1 695.3 705.4 715.6 725.8 735.9 746.1 756.3 766.5 776.6" y="324.5" font-size="16.0" stroke-width="0.55">(~JKBZXT40EEA004420)</text>
<text class="l" transform="scale(1.06 1)" x="263.9 274.0 284.2 294.4" y="349.8" font-size="16.0" stroke-width="0.55">130A</text>
<text class="l" transform="scale(1.06 1)" x="52.7 62.9 73.1 83.2 93.4 103.6 113.8 123.9" y="364.1" font-size="16.0" stroke-width="0.55">55028C/D</text>
<text class="l" transform="scale(1.06 1)" x="673.7 683.8 694.0 704.2 714.4 724.5" y="382.8" font-size="16.0" stroke-width="0.55">39156C</text>
<text class="l" transform="scale(1.06 1)" x="455.6 465.7 475.9 486.1 496.2 506.4" y="386.8" font-size="16.0" stroke-width="0.55">11056B</text>
<text class="l" transform="scale(1.06 1)" x="266.1 276.3 286.5" y="409.7" font-size="16.0" stroke-width="0.55">132</text>
<text class="l" transform="scale(1.06 1)" x="235.7 245.8 256.0 266.2 276.3 286.5" y="447.3" font-size="16.0" stroke-width="0.55">11056A</text>
<text class="l" transform="scale(1.06 1)" x="472.3 482.4 492.6 502.8 512.9 523.1" y="451.0" font-size="16.0" stroke-width="0.55">11054B</text>
<text class="l" transform="scale(1.06 1)" x="658.0 668.2 678.4 688.5 698.7 708.9" y="450.3" font-size="16.0" stroke-width="0.55">39156A</text>
<text class="l" transform="scale(1.06 1)" x="456.2 466.4 476.6 486.7 496.9" y="491.5" font-size="16.0" stroke-width="0.55">92210</text>
<text class="l" transform="scale(1.06 1)" x="663.7 673.8 684.0 694.2 704.4 714.5 724.7" y="491.5" font-size="16.0" stroke-width="0.55">(39154)</text>
<text class="l" transform="scale(1.06 1)" x="403.1 413.3 423.5 433.6 443.8" y="530.5" font-size="16.0" stroke-width="0.55">92210</text>
<text class="l" transform="scale(1.06 1)" x="238.8 248.9 259.1 269.3 279.5" y="522.2" font-size="16.0" stroke-width="0.55">92154</text>
<text class="l" transform="scale(1.06 1)" x="175.8 185.9 196.1 206.3 216.4 226.6" y="538.2" font-size="16.0" stroke-width="0.55">92200A</text>
<text class="l" transform="scale(1.06 1)" x="19.7 29.9 40.1 50.2 60.4 70.6" y="548.8" font-size="16.0" stroke-width="0.55">39156D</text>
<text class="l" transform="scale(1.06 1)" x="492.7 502.9 513.1 523.2 533.4 543.6" y="553.8" font-size="16.0" stroke-width="0.55">92210A</text>
<text class="l" transform="scale(1.06 1)" x="439.0 449.1 459.3 469.5 479.6" y="579.8" font-size="16.0" stroke-width="0.55">11056</text>
<text class="l" transform="scale(1.06 1)" x="37.1 47.2 57.4 67.6 77.8" y="581.5" font-size="16.0" stroke-width="0.55">92154</text>
<text class="l" transform="scale(1.06 1)" x="26.7 36.9 47.0 57.2 67.4 77.5" y="613.0" font-size="16.0" stroke-width="0.55">92200A</text>
<text class="l" transform="scale(1.06 1)" x="221.5 231.7 241.8 252.0 262.2 272.4" y="619.7" font-size="16.0" stroke-width="0.55">55028A</text>
<text class="l" transform="scale(1.06 1)" x="285.6 295.7 305.9 316.1 326.2" y="652.0" font-size="16.0" stroke-width="0.55">92154</text>
<text class="l" transform="scale(1.06 1)" x="553.9 564.2 574.5 584.8 595.1 605.4 615.7 626.0 636.3" y="655.5" font-size="16.0" stroke-width="0.55">Ref.Frame</text>
<text class="l" transform="scale(0.68 1)" x="1134.1 1150.3" y="657.9" font-size="16.0" stroke-width="0.20" font-weight="bold">WD</text>
<text class="l" transform="scale(1.06 1)" x="291.5 301.7 311.8 322.0 332.2 342.4" y="680.2" font-size="16.0" stroke-width="0.55">92200A</text>
<text class="l" transform="scale(1.06 1)" x="26.0 36.2 46.4 56.5 66.7" y="685.2" font-size="16.0" stroke-width="0.55">92075</text>
<text class="l" transform="scale(1.06 1)" x="36.4 46.6 56.8 66.9 77.1" y="712.8" font-size="16.0" stroke-width="0.55">92015</text>
<text class="l" transform="scale(1.06 1)" x="318.5 328.7 338.8 349.0 359.2 369.3" y="751.8" font-size="16.0" stroke-width="0.55">92153A</text>
<text class="l" transform="scale(1.06 1)" x="284.9 295.1 305.2 315.4 325.6" y="793.7" font-size="16.0" stroke-width="0.55">39156</text>
<text class="l" transform="scale(1.06 1)" x="279.5 289.7 299.9 310.0 320.2 330.4" y="836.0" font-size="16.0" stroke-width="0.55">39156B</text>
<text class="l" transform="scale(1.06 1)" x="89.1 99.2 109.4 119.6 129.7 139.9 150.1 160.2 170.4 180.6 190.8 200.9 211.1 221.3 231.4 241.6 251.8 261.9 272.1 282.3" y="857.7" font-size="16.0" stroke-width="0.55">(~JKBZXT40EEA004420)</text>
<text class="l" transform="scale(1.06 1)" x="536.6 546.9 557.3 567.6 577.9 588.3 598.6 608.9 619.2 629.6 639.9 650.2 660.6 670.9" y="849.3" font-size="16.0" stroke-width="0.55">Ref.Front Fork</text>
<text class="l" transform="scale(1.06 1)" x="159.4 169.6 179.8 189.9 200.1" y="885.2" font-size="16.0" stroke-width="0.55">11054</text>
<text class="l" transform="scale(1.06 1)" x="164.2 174.3 184.5 194.7 204.8" y="921.8" font-size="16.0" stroke-width="0.55">92015</text>
<text class="l" transform="scale(1.06 1)" x="583.3 593.5 603.6 613.8 624.0" y="921.8" font-size="16.0" stroke-width="0.55">14091</text>
<text class="l" transform="scale(1.06 1)" x="385.0 395.2 405.3 415.5 425.7" y="948.5" font-size="16.0" stroke-width="0.55">55028</text>
<text class="l" transform="scale(1.06 1)" x="97.5 107.6 117.8 128.0 138.1" y="968.5" font-size="16.0" stroke-width="0.55">92200</text>
<text class="l" transform="scale(1.06 1)" x="582.1 592.2 602.4 612.6 622.8" y="970.0" font-size="16.0" stroke-width="0.55">92152</text>
<text class="l" transform="scale(1.06 1)" x="97.5 107.6 117.8 128.0 138.1" y="999.0" font-size="16.0" stroke-width="0.55">92153</text>
<text class="l" transform="scale(1.06 1)" x="581.1 591.3 601.5 611.6" y="994.0" font-size="16.0" stroke-width="0.55">130B</text>
<text class="l" transform="scale(1.06 1)" x="352.6 362.8 373.0 383.2 393.3" y="1006.5" font-size="16.0" stroke-width="0.55">92039</text>
<text class="l" transform="scale(1.06 1)" x="595.2 605.4 615.5 625.7 635.9" y="1021.0" font-size="16.0" stroke-width="0.55">92152</text>
<text class="l" transform="scale(1.06 1)" x="741.8 752.0 762.1 772.3 782.5" y="1011.5" font-size="16.0" stroke-width="0.55">92152</text>
<text class="l" transform="scale(1.06 1)" x="408.5 418.8 429.2 439.5 449.8 460.2 470.5 480.9 491.2 501.5 511.9 522.2 532.6 542.9 553.2 563.6 573.9 584.3 594.6 604.9 615.3 625.6" y="1046.8" font-size="16.0" stroke-width="0.55">Ref.Chassis Electrical</text>
<text class="l" transform="scale(1.06 1)" x="321.6 331.8 341.9 352.1 362.3" y="1053.9" font-size="16.0" stroke-width="0.55">92039</text>
<text class="l" transform="scale(1.06 1)" x="450.0 460.3 470.7 481.0 491.4 501.7 512.0 522.4 532.7" y="1068.2" font-size="16.0" stroke-width="0.55">Equipment</text>
<text class="l" transform="scale(1.06 1)" x="238.0 248.4 258.8 269.2 279.5 289.9 300.3 310.7 321.0 331.4 341.8 352.2 362.5 372.9 383.3 393.7 404.1 414.4 424.8" y="1094.0" font-size="16.0" stroke-width="0.55">Ref.Cowling(Center)</text>
<text class="l" transform="scale(1.06 1)" x="568.6 578.8 588.9 599.1" y="1097.5" font-size="16.0" stroke-width="0.55">130B</text>
<circle cx="113.0" cy="302.7" r="11.3" class="k"/>
<text class="c" x="113.0" y="308.3">A</text>
<circle cx="545.2" cy="162.3" r="11.3" class="k"/>
<text class="c" x="545.2" y="167.9">B</text>
<circle cx="518.6" cy="356.0" r="11.3" class="k"/>
<text class="c" x="518.6" y="361.6">B</text>
<circle cx="411.1" cy="410.2" r="11.3" class="k"/>
<text class="c" x="411.1" y="415.8">C</text>
<circle cx="153.0" cy="548.3" r="11.3" class="k"/>
<text class="c" x="153.0" y="553.9">C</text>
<circle cx="124.8" cy="748.0" r="11.3" class="k"/>
<text class="c" x="124.8" y="753.6">A</text>
</g>
</svg>
</body></html>
